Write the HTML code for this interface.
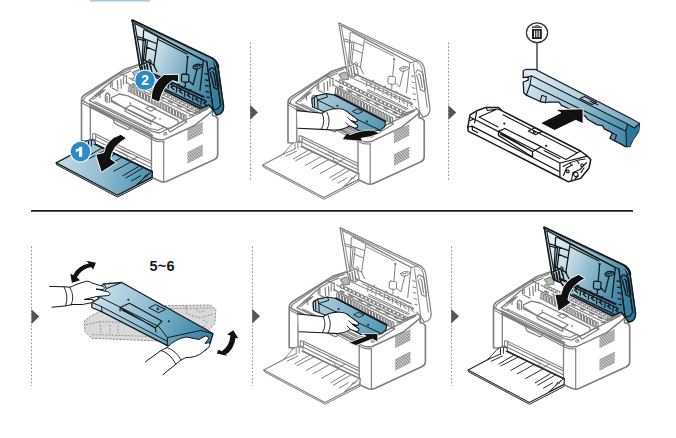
<!DOCTYPE html>
<html><head><meta charset="utf-8"><title>Replacing the toner cartridge</title>
<style>html,body{margin:0;padding:0;background:#fff;}body{width:676px;height:438px;overflow:hidden;font-family:"Liberation Sans",sans-serif;}svg{display:block}.t{font-family:"Liberation Sans",sans-serif;font-weight:bold;}</style>
</head><body>
<svg width="676" height="438" viewBox="0 0 676 438">
<defs>
<linearGradient id="lidg" gradientUnits="userSpaceOnUse" x1="137" y1="46" x2="221" y2="80">
<stop offset="0" stop-color="#e0edf3"/><stop offset="0.25" stop-color="#bfd8e3"/><stop offset="0.5" stop-color="#8ab7cb"/><stop offset="0.75" stop-color="#5795b1"/><stop offset="1" stop-color="#367e9d"/></linearGradient>
<linearGradient id="trayg" gradientUnits="userSpaceOnUse" x1="62" y1="162" x2="150" y2="178">
<stop offset="0" stop-color="#c0d9e4"/><stop offset="0.5" stop-color="#8cbace"/><stop offset="1" stop-color="#4b91af"/></linearGradient>
<linearGradient id="cartg" gradientUnits="userSpaceOnUse" x1="105" y1="95" x2="180" y2="125">
<stop offset="0" stop-color="#b2d0dd"/><stop offset="1" stop-color="#4f95b3"/></linearGradient>
<linearGradient id="covg" gradientUnits="userSpaceOnUse" x1="525" y1="80" x2="640" y2="135">
<stop offset="0" stop-color="#d6e6ee"/><stop offset="0.45" stop-color="#9ac2d4"/><stop offset="0.8" stop-color="#5797b4"/><stop offset="1" stop-color="#35819f"/></linearGradient>
<linearGradient id="c4g" gradientUnits="userSpaceOnUse" x1="95" y1="290" x2="212" y2="340">
<stop offset="0" stop-color="#cfe2ec"/><stop offset="0.45" stop-color="#8fbdd1"/><stop offset="0.8" stop-color="#4e93b2"/><stop offset="1" stop-color="#357fa0"/></linearGradient>
</defs>
<rect x="90" y="0" width="60" height="1.5" fill="#a9cbe0"/>
<rect x="31" y="210" width="602" height="1.7" fill="#1a1a1a"/>
<path d="M250.5,42.7 L250.5,181.5" stroke="#8e8e8e" stroke-width="1" stroke-dasharray="1.6 1.96" fill="none"/>
<path d="M250.2,105.10000000000001 L258.0,112.4 L250.2,119.7 Z" fill="#555"/>
<path d="M448.5,42.7 L448.5,181.5" stroke="#8e8e8e" stroke-width="1" stroke-dasharray="1.6 1.96" fill="none"/>
<path d="M448.4,105.2 L456.2,112.5 L448.4,119.8 Z" fill="#555"/>
<path d="M31.5,246.4 L31.5,386" stroke="#8e8e8e" stroke-width="1" stroke-dasharray="1.6 1.96" fill="none"/>
<path d="M31.5,309.3 L39.3,316.6 L31.5,323.90000000000003 Z" fill="#555"/>
<path d="M252.5,246.4 L252.5,386" stroke="#8e8e8e" stroke-width="1" stroke-dasharray="1.6 1.96" fill="none"/>
<path d="M252.2,308.9 L260.0,316.2 L252.2,323.5 Z" fill="#555"/>
<path d="M451.5,246.4 L451.5,386" stroke="#8e8e8e" stroke-width="1" stroke-dasharray="1.6 1.96" fill="none"/>
<path d="M451.2,308.9 L459.0,316.2 L451.2,323.5 Z" fill="#555"/>
<g transform="translate(0,0)">
<path d="M81.5,140.5 L81.5,100.5 Q81.5,97 84,95.2 L125,69.3 L138,64.9 L212.5,104 L212.5,115.5 L215.5,116.2 L217.7,118.6 L217.7,154.5 Q217.7,158 214.5,159.5 L167,181.3 Q163.5,182.8 160,181.3 L152,177.6 L151.8,172 L88.5,141 Z" fill="#fff" stroke="#7f7f7f" stroke-width="1.65" stroke-linejoin="round" stroke-linecap="round" />
<path d="M83.6,100.8 Q83.6,98 85.8,96.6 L116.8,75.2 L128.2,70 L137,67" fill="none" stroke="#7f7f7f" stroke-width="1.18" stroke-linejoin="round" stroke-linecap="round" />
<path d="M81.8,100.4 L153,137.8 Q158.5,140.6 164.5,139.4 L195,125.2 L212.3,111.2" fill="none" stroke="#7f7f7f" stroke-width="1.53" stroke-linejoin="round" stroke-linecap="round" />
<path d="M82.5,103.2 L153,140 Q158.5,142.4 164,141.6" fill="none" stroke="#7f7f7f" stroke-width="1.06" stroke-linejoin="round" stroke-linecap="round" />
<path d="M163.7,142 L163.7,181.2" fill="none" stroke="#7f7f7f" stroke-width="1.18" stroke-linejoin="round" stroke-linecap="round" />
<path d="M187.8,130.2 L202.4,122.8" fill="none" stroke="#7f7f7f" stroke-width="0.94" stroke-linejoin="round" stroke-linecap="round" />
<path d="M187.8,131.6 L202.4,124.2" fill="none" stroke="#7f7f7f" stroke-width="0.94" stroke-linejoin="round" stroke-linecap="round" />
<path d="M187.8,133.1 L202.4,125.7" fill="none" stroke="#7f7f7f" stroke-width="0.94" stroke-linejoin="round" stroke-linecap="round" />
<path d="M187.8,134.5 L202.4,127.1" fill="none" stroke="#7f7f7f" stroke-width="0.94" stroke-linejoin="round" stroke-linecap="round" />
<path d="M187.8,136.0 L202.4,128.6" fill="none" stroke="#7f7f7f" stroke-width="0.94" stroke-linejoin="round" stroke-linecap="round" />
<path d="M187.8,137.4 L202.4,130.0" fill="none" stroke="#7f7f7f" stroke-width="0.94" stroke-linejoin="round" stroke-linecap="round" />
<path d="M187.8,138.9 L202.4,131.5" fill="none" stroke="#7f7f7f" stroke-width="0.94" stroke-linejoin="round" stroke-linecap="round" />
<path d="M187.8,140.3 L202.4,132.9" fill="none" stroke="#7f7f7f" stroke-width="0.94" stroke-linejoin="round" stroke-linecap="round" />
<path d="M187.8,152.6 L202.4,145.2" fill="none" stroke="#7f7f7f" stroke-width="0.94" stroke-linejoin="round" stroke-linecap="round" />
<path d="M187.8,154.0 L202.4,146.6" fill="none" stroke="#7f7f7f" stroke-width="0.94" stroke-linejoin="round" stroke-linecap="round" />
<path d="M187.8,155.5 L202.4,148.1" fill="none" stroke="#7f7f7f" stroke-width="0.94" stroke-linejoin="round" stroke-linecap="round" />
<path d="M187.8,156.9 L202.4,149.5" fill="none" stroke="#7f7f7f" stroke-width="0.94" stroke-linejoin="round" stroke-linecap="round" />
<path d="M187.8,158.4 L202.4,151.0" fill="none" stroke="#7f7f7f" stroke-width="0.94" stroke-linejoin="round" stroke-linecap="round" />
<path d="M187.8,159.8 L202.4,152.4" fill="none" stroke="#7f7f7f" stroke-width="0.94" stroke-linejoin="round" stroke-linecap="round" />
<path d="M187.8,161.3 L202.4,153.9" fill="none" stroke="#7f7f7f" stroke-width="0.94" stroke-linejoin="round" stroke-linecap="round" />
<path d="M187.8,162.8 L202.4,155.3" fill="none" stroke="#7f7f7f" stroke-width="0.94" stroke-linejoin="round" stroke-linecap="round" />
<path d="M90.3,139.8 L90.3,105.2 M151.5,135.5 L151.5,171.5" fill="none" stroke="#7f7f7f" stroke-width="1.3" stroke-linejoin="round" stroke-linecap="round" />
<path d="M90,106.8 L152,135.6" fill="none" stroke="#7f7f7f" stroke-width="2.24" stroke-linejoin="round" stroke-linecap="round" />
<path d="M89.4,103.6 L150,132.4" fill="none" stroke="#7f7f7f" stroke-width="1.06" stroke-linejoin="round" stroke-linecap="round" />
<path d="M112.8,117.6 L114.2,122.2 Q114.6,123.6 116.4,124.4 L127,129.3 Q129,130.1 129.6,128.6 L130.6,125.7" fill="none" stroke="#7f7f7f" stroke-width="1.3" stroke-linejoin="round" stroke-linecap="round" />
<path d="M95.6,134.1 L151.4,161.2 M95.6,136.4 L151.4,163.8 M92,138.4 L151.4,167.6" fill="none" stroke="#7f7f7f" stroke-width="1.06" stroke-linejoin="round" stroke-linecap="round" />
<path d="M92.6,133.6 L92.6,139.2 M95.6,134.1 L95.6,139.6 M92.6,133.6 L95.6,134.1" fill="none" stroke="#7f7f7f" stroke-width="1.06" stroke-linejoin="round" stroke-linecap="round" />
<path d="M89.2,100.6 L108.8,83.4 L112,81.8 M89.2,100.6 L152.5,131.4 L159.5,133 L207.5,109" fill="none" stroke="#7f7f7f" stroke-width="1.3" stroke-linejoin="round" stroke-linecap="round" />
<path d="M92.8,99.6 L104,91 M95,101.8 L150,128.6 L158,130.2 L167,126" fill="none" stroke="#7f7f7f" stroke-width="1.06" stroke-linejoin="round" stroke-linecap="round" />
<path d="M110.5,83.1 L110.5,87 M112.2,82.2 L112.2,86.6 M117.4,80.6 L117.9,88.8 M120.8,79.5 L121.3,88.2 M114,77 L120,73.5 L126,76.5" fill="none" stroke="#7f7f7f" stroke-width="1.18" stroke-linejoin="round" stroke-linecap="round" />
<path d="M105.4,101 L105.4,95.6 Q105.6,93.4 107.6,93 L109.6,94.6 L109.4,102.2 M107,102.6 L107,96.5" fill="none" stroke="#7f7f7f" stroke-width="1.3" stroke-linejoin="round" stroke-linecap="round" />
<path d="M95.1,96.2 L105.4,89.4" fill="none" stroke="#7f7f7f" stroke-width="1.06" stroke-linejoin="round" stroke-linecap="round" />
<path d="M132.5,72.4 L138,69.8 L141.5,72 L141.8,77 L136,77.8 Z" fill="#b9b9b9" stroke="#7f7f7f" stroke-width="1.06" stroke-linejoin="round" stroke-linecap="round" />
<path d="M110.8,81.4 L122.3,74.6 L131,71 M123.5,77 L123.5,84 M126.5,75.6 L126.5,83 M129,78 L134,80.6 M112,88 L118,91 M98,94 L103.5,90 M100,97.5 L100,93" fill="none" stroke="#7f7f7f" stroke-width="1.18" stroke-linejoin="round" stroke-linecap="round" />
<path d="M111.4,97.6 L119.4,94 L128,95.8 L178,120.4 L178,124 L170.5,128 L167.4,128.6 L111.4,101.6 Z" fill="#fff" stroke="#7f7f7f" stroke-width="1.3" stroke-linejoin="round" stroke-linecap="round" />
<path d="M111.4,99.9 L125.1,108.5 L167.4,128.5 M125.1,108.5 L130.8,105.1 L156,117.6 L150.8,121.6 Z M125.1,108.5 L125.1,111 M150.8,121.6 L150.8,124.4 M150.8,124.4 L125.1,111.2" fill="none" stroke="#7f7f7f" stroke-width="1.18" stroke-linejoin="round" stroke-linecap="round" />
<path d="M145.7,108.4 L150.7,106 L156,108.6 L151,111.2 Z" fill="none" stroke="#7f7f7f" stroke-width="1.06" stroke-linejoin="round" stroke-linecap="round" />
<circle cx="130.3" cy="103.4" r="0.9" fill="#7f7f7f"/><circle cx="160" cy="118.8" r="0.9" fill="#7f7f7f"/>
<path d="M129.0,90.6 l0,-4.4 q1,-1.2 2,0.2 l0,4.6" fill="none" stroke="#7f7f7f" stroke-width="1.18" stroke-linejoin="round" stroke-linecap="round" />
<path d="M131.9,92.1 l0,-4.4 q1,-1.2 2,0.2 l0,4.6" fill="none" stroke="#7f7f7f" stroke-width="1.18" stroke-linejoin="round" stroke-linecap="round" />
<path d="M134.8,93.7 l0,-4.4 q1,-1.2 2,0.2 l0,4.6" fill="none" stroke="#7f7f7f" stroke-width="1.18" stroke-linejoin="round" stroke-linecap="round" />
<path d="M137.7,95.2 l0,-4.4 q1,-1.2 2,0.2 l0,4.6" fill="none" stroke="#7f7f7f" stroke-width="1.18" stroke-linejoin="round" stroke-linecap="round" />
<path d="M140.6,96.7 l0,-4.4 q1,-1.2 2,0.2 l0,4.6" fill="none" stroke="#7f7f7f" stroke-width="1.18" stroke-linejoin="round" stroke-linecap="round" />
<path d="M143.5,98.3 l0,-4.4 q1,-1.2 2,0.2 l0,4.6" fill="none" stroke="#7f7f7f" stroke-width="1.18" stroke-linejoin="round" stroke-linecap="round" />
<path d="M146.4,99.8 l0,-4.4 q1,-1.2 2,0.2 l0,4.6" fill="none" stroke="#7f7f7f" stroke-width="1.18" stroke-linejoin="round" stroke-linecap="round" />
<path d="M149.3,101.4 l0,-4.4 q1,-1.2 2,0.2 l0,4.6" fill="none" stroke="#7f7f7f" stroke-width="1.18" stroke-linejoin="round" stroke-linecap="round" />
<path d="M152.2,102.9 l0,-4.4 q1,-1.2 2,0.2 l0,4.6" fill="none" stroke="#7f7f7f" stroke-width="1.18" stroke-linejoin="round" stroke-linecap="round" />
<path d="M155.1,104.4 l0,-4.4 q1,-1.2 2,0.2 l0,4.6" fill="none" stroke="#7f7f7f" stroke-width="1.18" stroke-linejoin="round" stroke-linecap="round" />
<path d="M158.0,106.0 l0,-4.4 q1,-1.2 2,0.2 l0,4.6" fill="none" stroke="#7f7f7f" stroke-width="1.18" stroke-linejoin="round" stroke-linecap="round" />
<path d="M160.9,107.5 l0,-4.4 q1,-1.2 2,0.2 l0,4.6" fill="none" stroke="#7f7f7f" stroke-width="1.18" stroke-linejoin="round" stroke-linecap="round" />
<path d="M163.8,109.0 l0,-4.4 q1,-1.2 2,0.2 l0,4.6" fill="none" stroke="#7f7f7f" stroke-width="1.18" stroke-linejoin="round" stroke-linecap="round" />
<path d="M166.7,110.6 l0,-4.4 q1,-1.2 2,0.2 l0,4.6" fill="none" stroke="#7f7f7f" stroke-width="1.18" stroke-linejoin="round" stroke-linecap="round" />
<path d="M169.6,112.1 l0,-4.4 q1,-1.2 2,0.2 l0,4.6" fill="none" stroke="#7f7f7f" stroke-width="1.18" stroke-linejoin="round" stroke-linecap="round" />
<path d="M172.5,113.7 l0,-4.4 q1,-1.2 2,0.2 l0,4.6" fill="none" stroke="#7f7f7f" stroke-width="1.18" stroke-linejoin="round" stroke-linecap="round" />
<path d="M175.4,115.2 l0,-4.4 q1,-1.2 2,0.2 l0,4.6" fill="none" stroke="#7f7f7f" stroke-width="1.18" stroke-linejoin="round" stroke-linecap="round" />
<path d="M178.3,116.7 l0,-4.4 q1,-1.2 2,0.2 l0,4.6" fill="none" stroke="#7f7f7f" stroke-width="1.18" stroke-linejoin="round" stroke-linecap="round" />
<path d="M181.2,118.3 l0,-4.4 q1,-1.2 2,0.2 l0,4.6" fill="none" stroke="#7f7f7f" stroke-width="1.18" stroke-linejoin="round" stroke-linecap="round" />
<path d="M184.1,119.8 l0,-4.4 q1,-1.2 2,0.2 l0,4.6" fill="none" stroke="#7f7f7f" stroke-width="1.18" stroke-linejoin="round" stroke-linecap="round" />
<path d="M133.0,77.4 l0,3.2 l2.8,1.3 l0,-3.2 Z" fill="none" stroke="#7f7f7f" stroke-width="1.06" stroke-linejoin="round" stroke-linecap="round" />
<path d="M137.0,79.4 l0,3.2 l2.8,1.3 l0,-3.2 Z" fill="none" stroke="#7f7f7f" stroke-width="1.06" stroke-linejoin="round" stroke-linecap="round" />
<path d="M141.0,81.3 l0,3.2 l2.8,1.3 l0,-3.2 Z" fill="none" stroke="#7f7f7f" stroke-width="1.06" stroke-linejoin="round" stroke-linecap="round" />
<path d="M145.0,83.3 l0,3.2 l2.8,1.3 l0,-3.2 Z" fill="none" stroke="#7f7f7f" stroke-width="1.06" stroke-linejoin="round" stroke-linecap="round" />
<path d="M149.0,85.2 l0,3.2 l2.8,1.3 l0,-3.2 Z" fill="none" stroke="#7f7f7f" stroke-width="1.06" stroke-linejoin="round" stroke-linecap="round" />
<path d="M153.0,87.2 l0,3.2 l2.8,1.3 l0,-3.2 Z" fill="none" stroke="#7f7f7f" stroke-width="1.06" stroke-linejoin="round" stroke-linecap="round" />
<path d="M157.0,89.2 l0,3.2 l2.8,1.3 l0,-3.2 Z" fill="none" stroke="#7f7f7f" stroke-width="1.06" stroke-linejoin="round" stroke-linecap="round" />
<path d="M161.0,91.1 l0,3.2 l2.8,1.3 l0,-3.2 Z" fill="none" stroke="#7f7f7f" stroke-width="1.06" stroke-linejoin="round" stroke-linecap="round" />
<path d="M165.0,93.1 l0,3.2 l2.8,1.3 l0,-3.2 Z" fill="none" stroke="#7f7f7f" stroke-width="1.06" stroke-linejoin="round" stroke-linecap="round" />
<path d="M169.0,95.0 l0,3.2 l2.8,1.3 l0,-3.2 Z" fill="none" stroke="#7f7f7f" stroke-width="1.06" stroke-linejoin="round" stroke-linecap="round" />
<path d="M173.0,97.0 l0,3.2 l2.8,1.3 l0,-3.2 Z" fill="none" stroke="#7f7f7f" stroke-width="1.06" stroke-linejoin="round" stroke-linecap="round" />
<path d="M177.0,99.0 l0,3.2 l2.8,1.3 l0,-3.2 Z" fill="none" stroke="#7f7f7f" stroke-width="1.06" stroke-linejoin="round" stroke-linecap="round" />
<path d="M181.0,100.9 l0,3.2 l2.8,1.3 l0,-3.2 Z" fill="none" stroke="#7f7f7f" stroke-width="1.06" stroke-linejoin="round" stroke-linecap="round" />
<path d="M185.0,102.9 l0,3.2 l2.8,1.3 l0,-3.2 Z" fill="none" stroke="#7f7f7f" stroke-width="1.06" stroke-linejoin="round" stroke-linecap="round" />
<path d="M189.0,104.8 l0,3.2 l2.8,1.3 l0,-3.2 Z" fill="none" stroke="#7f7f7f" stroke-width="1.06" stroke-linejoin="round" stroke-linecap="round" />
<path d="M193.0,106.8 l0,3.2 l2.8,1.3 l0,-3.2 Z" fill="none" stroke="#7f7f7f" stroke-width="1.06" stroke-linejoin="round" stroke-linecap="round" />
<path d="M197.0,108.8 l0,3.2 l2.8,1.3 l0,-3.2 Z" fill="none" stroke="#7f7f7f" stroke-width="1.06" stroke-linejoin="round" stroke-linecap="round" />
<path d="M126,82.5 L193,115.5 M128,90.8 L186,121.6 M140,86.5 L196,113.5" fill="none" stroke="#7f7f7f" stroke-width="1.18" stroke-linejoin="round" stroke-linecap="round" />
<path d="M133,84 l3,1.4 M142,88.3 l3,1.4 M151,92.6 l3,1.4 M160,96.9 l3,1.4 M169,101.2 l3,1.4 M178,105.5 l3,1.4 M187,109.8 l3,1.4" fill="none" stroke="#7f7f7f" stroke-width="2.01" stroke-linejoin="round" stroke-linecap="round" />
<path d="M194.5,112.6 L210.3,106.8" fill="none" stroke="#7f7f7f" stroke-width="1.18" stroke-linejoin="round" stroke-linecap="round" />
<path d="M167.9,129.4 L185,119.8 L187,121.8 L170,132.1 Z" fill="none" stroke="#7f7f7f" stroke-width="1.18" stroke-linejoin="round" stroke-linecap="round" />
<path d="M165.5,132.5 a1.6,1.2 -25 1,0 0.1,0 M189,115.8 L208.3,108.1" fill="none" stroke="#7f7f7f" stroke-width="1.06" stroke-linejoin="round" stroke-linecap="round" />
<g transform="translate(0.5,1.1)"><path d="M131.8,19.4 L211.3,57.2 Q216.4,59.8 217.5,65.8 L222.9,104.5 Q223.4,110.3 219.6,112.6 L216,113.8 L212.6,108.6 L208.7,104 L200,107.6 L158,86.6 L147,72.5 L139.4,66 Z" fill="url(#lidg)" stroke="#151a1e" stroke-width="1.69" stroke-linejoin="round" stroke-linecap="round" />
<path d="M212.5,58.2 Q216.4,59.8 217.5,65.8 L222.9,104.5 Q223.4,110.3 219.6,112.6 L216,113.8 L212.6,108.6 L217,108 L220.2,104 L214.6,66 Z" fill="#2b7797" stroke="#151a1e" stroke-width="1.17" stroke-linejoin="round" stroke-linecap="round" />
<path d="M203.2,59.4 L206.3,60.4 L212.6,108.6" fill="none" stroke="#151a1e" stroke-width="1.17" stroke-linejoin="round" stroke-linecap="round" />
<path d="M131.8,19.4 L211.3,57.2 Q216.4,59.8 217.5,65.8" fill="none" stroke="#151a1e" stroke-width="2.6" stroke-linejoin="round" stroke-linecap="round" />
<path d="M133.6,21.2 L210.4,57.9 Q214.6,60 215.3,64" fill="none" stroke="#8bbbd0" stroke-width="0.78" stroke-linejoin="round" stroke-linecap="round" />
<path d="M214.6,66 L220.2,104" fill="none" stroke="#151a1e" stroke-width="1.17" stroke-linejoin="round" stroke-linecap="round" />
<path d="M134.2,22.2 L203.2,59.4 M134.2,22.2 L141.6,64" fill="none" stroke="#151a1e" stroke-width="1.17" stroke-linejoin="round" stroke-linecap="round" />
<path d="M141.7,60.2 L143.1,29.6 Q143.4,28.4 144.6,28.9 L202.9,59.2 L199.5,89.3" fill="none" stroke="#151a1e" stroke-width="1.3" stroke-linejoin="round" stroke-linecap="round" />
<path d="M145.1,38.3 L156.1,42.4 M145.1,38.3 L142.6,61.6 M157.5,36.2 L153.3,64.3 M145.8,45.8 L155.4,49.9 M143.8,58.8 L154,64.3 M147,39.3 L144.6,60" fill="none" stroke="#151a1e" stroke-width="1.3" stroke-linejoin="round" stroke-linecap="round" />
<path d="M136.9,35.5 L143.8,37.6 L143.8,39.6 L137.3,37.7" fill="none" stroke="#151a1e" stroke-width="1.3" stroke-linejoin="round" stroke-linecap="round" />
<path d="M148.5,58.5 L150.5,60 L150.2,62.8 M142.4,61.6 L140.2,66.5 M146,64 L144.5,70 M150.5,65.5 L149.5,71.5 M153.3,64.3 L156.5,70.5" fill="none" stroke="#151a1e" stroke-width="1.3" stroke-linejoin="round" stroke-linecap="round" />
<path d="M139,64.4 L148.2,60.2 L151.4,70.4 L147,74 L141,71.4 Z" fill="url(#lidg)" stroke="#151a1e" stroke-width="1.43" stroke-linejoin="round" stroke-linecap="round" />
<path d="M141.2,65.4 L142.6,72 M143.8,64.2 L145.2,72.6 M146.4,63 L147.8,72" fill="none" stroke="#151a1e" stroke-width="1.82" stroke-linejoin="round" stroke-linecap="round" />
<path d="M158.2,38.6 L186.5,52.8" fill="none" stroke="#151a1e" stroke-width="1.17" stroke-linejoin="round" stroke-linecap="round" />
<circle cx="187.1" cy="55.8" r="1.2" fill="#151a1e"/>
<path d="M187.1,57 L185.8,72.2 M182.4,72.9 L187.4,73.4 Q188.6,73.7 188.5,75 L188.2,80 Q188,81.4 186.6,81.2 L182,80.6 Q180.8,80.3 180.9,79 L181.2,74 Q181.4,72.8 182.4,72.9 Z M184.6,81 L185,85.2 L182,87 M188.3,79.5 L192.6,83.8 L196.7,67.4" fill="none" stroke="#151a1e" stroke-width="1.3" stroke-linejoin="round" stroke-linecap="round" />
<path d="M192.6,65.3 Q195,62.6 199.5,63.3 Q202,63.8 201.5,65.3 Q199,68 195.3,68.1 Q192.2,67.6 192.6,65.3 Z M194.5,65.8 L199.2,64.6" fill="none" stroke="#151a1e" stroke-width="1.3" stroke-linejoin="round" stroke-linecap="round" />
<path d="M209,69.5 Q209.4,66.4 211.6,66.8 L214.4,68.6 Q215.8,69.6 216.1,71.4 L218.2,85.4 Q218.4,88.4 216,87.8 L213.2,86.2 M209.7,71.5 L213.6,86.4 M211.6,70.6 Q213,70.8 213.4,72.6 L215.4,84.6" fill="none" stroke="#151a1e" stroke-width="1.43" stroke-linejoin="round" stroke-linecap="round" />
<path d="M204.4,72.6 l2.6,0.6 M204.8,78.8 l2.6,0.6 M205.2,84.4 l2.6,0.6 M205.8,90.4 l2.6,0.6 M206.4,96 l2.6,0.6" fill="none" stroke="#151a1e" stroke-width="1.3" stroke-linejoin="round" stroke-linecap="round" />
<path d="M206.3,60.4 L212.6,108.6" fill="none" stroke="#151a1e" stroke-width="1.17" stroke-linejoin="round" stroke-linecap="round" />
<path d="M147,70.2 L203.1,95.7" fill="none" stroke="#151a1e" stroke-width="1.95" stroke-linejoin="round" stroke-linecap="round" />
<path d="M154,75.5 L204.7,99.7 M160.5,86 L201,105.5" fill="none" stroke="#151a1e" stroke-width="1.3" stroke-linejoin="round" stroke-linecap="round" />
<path d="M160.0,77.6 l-0.6,5.4 M162.6,78.8 l2.2,2 l-2.6,1 l3,2.6" fill="none" stroke="#151a1e" stroke-width="1.3" stroke-linejoin="round" stroke-linecap="round" />
<path d="M168.2,81.6 l-0.6,5.4 M170.8,82.8 l2.2,2 l-2.6,1 l3,2.6" fill="none" stroke="#151a1e" stroke-width="1.3" stroke-linejoin="round" stroke-linecap="round" />
<path d="M176.4,85.6 l-0.6,5.4 M179.0,86.8 l2.2,2 l-2.6,1 l3,2.6" fill="none" stroke="#151a1e" stroke-width="1.3" stroke-linejoin="round" stroke-linecap="round" />
<path d="M184.6,89.6 l-0.6,5.4 M187.2,90.8 l2.2,2 l-2.6,1 l3,2.6" fill="none" stroke="#151a1e" stroke-width="1.3" stroke-linejoin="round" stroke-linecap="round" />
<path d="M192.8,93.6 l-0.6,5.4 M195.4,94.8 l2.2,2 l-2.6,1 l3,2.6" fill="none" stroke="#151a1e" stroke-width="1.3" stroke-linejoin="round" stroke-linecap="round" />
<path d="M201.0,97.6 l-0.6,5.4 M203.6,98.8 l2.2,2 l-2.6,1 l3,2.6" fill="none" stroke="#151a1e" stroke-width="1.3" stroke-linejoin="round" stroke-linecap="round" />
<circle cx="166" cy="77.4" r="0.9" fill="#151a1e"/><circle cx="178" cy="83.2" r="0.9" fill="#151a1e"/><circle cx="190" cy="88.8" r="0.9" fill="#151a1e"/></g>
<path d="M88.3,140.8 L82,147.6 L76,152.3 L56.2,162.9 L117.3,195.3 L152,177.4 L152.4,171.6 Z" fill="url(#trayg)" stroke="#151a1e" stroke-width="1.3" stroke-linejoin="round" stroke-linecap="round" />
<path d="M56.2,162.9 L56.8,164.8 L117.5,197.1 L152.2,179.2" fill="none" stroke="#151a1e" stroke-width="1.0" stroke-linejoin="round" stroke-linecap="round" />
<path d="M90,141.8 L152.4,171.8" fill="none" stroke="#151a1e" stroke-width="1.5" stroke-linejoin="round" stroke-linecap="round" />
<path d="M90.2,148.9 L79.4,154" fill="none" stroke="#151a1e" stroke-width="1.0" stroke-linejoin="round" stroke-linecap="round" />
<path d="M102.2,147.8 L86.8,156.9" fill="none" stroke="#151a1e" stroke-width="1.0" stroke-linejoin="round" stroke-linecap="round" />
<path d="M106.8,149.5 L89.1,158.6" fill="none" stroke="#151a1e" stroke-width="1.0" stroke-linejoin="round" stroke-linecap="round" />
<path d="M115.3,154 L98.8,163.2" fill="none" stroke="#151a1e" stroke-width="1.0" stroke-linejoin="round" stroke-linecap="round" />
<path d="M121.8,157.5 L105.3,166.6" fill="none" stroke="#151a1e" stroke-width="1.0" stroke-linejoin="round" stroke-linecap="round" />
<path d="M130.4,162.1 L113.8,171.2" fill="none" stroke="#151a1e" stroke-width="1.0" stroke-linejoin="round" stroke-linecap="round" />
<path d="M138.4,166.6 L123,175.7" fill="none" stroke="#151a1e" stroke-width="1.0" stroke-linejoin="round" stroke-linecap="round" />
<path d="M142.4,168.3 L125.8,178" fill="none" stroke="#151a1e" stroke-width="1.0" stroke-linejoin="round" stroke-linecap="round" />
<path d="M140.6,175.7 L131.5,180.9" fill="none" stroke="#151a1e" stroke-width="1.0" stroke-linejoin="round" stroke-linecap="round" />
<path d="M76,152.3 Q81,147 85.1,142.1 Q88,139.6 90.8,139.8 L94.8,140.3 L95.4,143.4 M88.5,141.5 L88.5,146.8 M91.4,140.3 L91.4,146 M76,152.3 L88.5,146.8" fill="url(#trayg)" stroke="#151a1e" stroke-width="1.0" stroke-linejoin="round" stroke-linecap="round" />
<path d="M137,184.4 L150.9,172 M137,184.4 L151.8,177.2 M143.5,178.4 l2.4,-3.6 M146.8,176.6 l2,-3.2" fill="none" stroke="#151a1e" stroke-width="1.0" stroke-linejoin="round" stroke-linecap="round" />
<path d="M119,151.5 L127,155.4 L127.2,158.3 L131.3,160.3 L137.5,156.8 M122,150 L130,153.8" fill="none" stroke="#5b6a72" stroke-width="0.9" stroke-linejoin="round" stroke-linecap="round" />
<path d="M120.8,134.4 Q106,139 103.8,152.5 L95.7,154.5 L101.3,172.4 L116.4,162.7 L110.7,158.9 Q112,146 126.4,138.2 Z" fill="#111" stroke="#fff" stroke-width="1"/><circle cx="80.5" cy="151.6" r="10.7" fill="#fff"/><circle cx="80.5" cy="151.6" r="9.8" fill="#2a8bc6"/><path d="M82.2,146.7 L79.8,146.7 Q78.8,148.9 75.8,149.6 L75.8,151.9 Q77.8,151.4 79.1,150.4 L79.1,156.7 L82.2,156.7 Z" fill="#fff"/><path d="M151.1,98.8 Q151.5,83 163.9,74.6 L178.7,74.2 L178.7,82.6 L172.5,80.6 Q163,86 159.3,102.3 Z" fill="#111" stroke="#fff" stroke-width="1"/><circle cx="145" cy="80.3" r="10.7" fill="#fff"/><circle cx="145" cy="80.3" r="9.8" fill="#2a8bc6"/><text class="t" x="145" y="85.2" text-anchor="middle" font-size="13.8" fill="#fff">2</text>
</g>
<g transform="translate(206.5,2.2)">
<path d="M81.5,140.5 L81.5,100.5 Q81.5,97 84,95.2 L125,69.3 L138,64.9 L212.5,104 L212.5,115.5 L215.5,116.2 L217.7,118.6 L217.7,154.5 Q217.7,158 214.5,159.5 L167,181.3 Q163.5,182.8 160,181.3 L152,177.6 L151.8,172 L88.5,141 Z" fill="#fff" stroke="#7f7f7f" stroke-width="1.65" stroke-linejoin="round" stroke-linecap="round" />
<path d="M83.6,100.8 Q83.6,98 85.8,96.6 L116.8,75.2 L128.2,70 L137,67" fill="none" stroke="#7f7f7f" stroke-width="1.18" stroke-linejoin="round" stroke-linecap="round" />
<path d="M81.8,100.4 L153,137.8 Q158.5,140.6 164.5,139.4 L195,125.2 L212.3,111.2" fill="none" stroke="#7f7f7f" stroke-width="1.53" stroke-linejoin="round" stroke-linecap="round" />
<path d="M82.5,103.2 L153,140 Q158.5,142.4 164,141.6" fill="none" stroke="#7f7f7f" stroke-width="1.06" stroke-linejoin="round" stroke-linecap="round" />
<path d="M163.7,142 L163.7,181.2" fill="none" stroke="#7f7f7f" stroke-width="1.18" stroke-linejoin="round" stroke-linecap="round" />
<path d="M187.8,130.2 L202.4,122.8" fill="none" stroke="#7f7f7f" stroke-width="0.94" stroke-linejoin="round" stroke-linecap="round" />
<path d="M187.8,131.6 L202.4,124.2" fill="none" stroke="#7f7f7f" stroke-width="0.94" stroke-linejoin="round" stroke-linecap="round" />
<path d="M187.8,133.1 L202.4,125.7" fill="none" stroke="#7f7f7f" stroke-width="0.94" stroke-linejoin="round" stroke-linecap="round" />
<path d="M187.8,134.5 L202.4,127.1" fill="none" stroke="#7f7f7f" stroke-width="0.94" stroke-linejoin="round" stroke-linecap="round" />
<path d="M187.8,136.0 L202.4,128.6" fill="none" stroke="#7f7f7f" stroke-width="0.94" stroke-linejoin="round" stroke-linecap="round" />
<path d="M187.8,137.4 L202.4,130.0" fill="none" stroke="#7f7f7f" stroke-width="0.94" stroke-linejoin="round" stroke-linecap="round" />
<path d="M187.8,138.9 L202.4,131.5" fill="none" stroke="#7f7f7f" stroke-width="0.94" stroke-linejoin="round" stroke-linecap="round" />
<path d="M187.8,140.3 L202.4,132.9" fill="none" stroke="#7f7f7f" stroke-width="0.94" stroke-linejoin="round" stroke-linecap="round" />
<path d="M187.8,152.6 L202.4,145.2" fill="none" stroke="#7f7f7f" stroke-width="0.94" stroke-linejoin="round" stroke-linecap="round" />
<path d="M187.8,154.0 L202.4,146.6" fill="none" stroke="#7f7f7f" stroke-width="0.94" stroke-linejoin="round" stroke-linecap="round" />
<path d="M187.8,155.5 L202.4,148.1" fill="none" stroke="#7f7f7f" stroke-width="0.94" stroke-linejoin="round" stroke-linecap="round" />
<path d="M187.8,156.9 L202.4,149.5" fill="none" stroke="#7f7f7f" stroke-width="0.94" stroke-linejoin="round" stroke-linecap="round" />
<path d="M187.8,158.4 L202.4,151.0" fill="none" stroke="#7f7f7f" stroke-width="0.94" stroke-linejoin="round" stroke-linecap="round" />
<path d="M187.8,159.8 L202.4,152.4" fill="none" stroke="#7f7f7f" stroke-width="0.94" stroke-linejoin="round" stroke-linecap="round" />
<path d="M187.8,161.3 L202.4,153.9" fill="none" stroke="#7f7f7f" stroke-width="0.94" stroke-linejoin="round" stroke-linecap="round" />
<path d="M187.8,162.8 L202.4,155.3" fill="none" stroke="#7f7f7f" stroke-width="0.94" stroke-linejoin="round" stroke-linecap="round" />
<path d="M90.3,139.8 L90.3,105.2 M151.5,135.5 L151.5,171.5" fill="none" stroke="#7f7f7f" stroke-width="1.3" stroke-linejoin="round" stroke-linecap="round" />
<path d="M90,106.8 L152,135.6" fill="none" stroke="#7f7f7f" stroke-width="2.24" stroke-linejoin="round" stroke-linecap="round" />
<path d="M89.4,103.6 L150,132.4" fill="none" stroke="#7f7f7f" stroke-width="1.06" stroke-linejoin="round" stroke-linecap="round" />
<path d="M112.8,117.6 L114.2,122.2 Q114.6,123.6 116.4,124.4 L127,129.3 Q129,130.1 129.6,128.6 L130.6,125.7" fill="none" stroke="#7f7f7f" stroke-width="1.3" stroke-linejoin="round" stroke-linecap="round" />
<path d="M95.6,134.1 L151.4,161.2 M95.6,136.4 L151.4,163.8 M92,138.4 L151.4,167.6" fill="none" stroke="#7f7f7f" stroke-width="1.06" stroke-linejoin="round" stroke-linecap="round" />
<path d="M92.6,133.6 L92.6,139.2 M95.6,134.1 L95.6,139.6 M92.6,133.6 L95.6,134.1" fill="none" stroke="#7f7f7f" stroke-width="1.06" stroke-linejoin="round" stroke-linecap="round" />
<path d="M89.2,100.6 L108.8,83.4 L112,81.8 M89.2,100.6 L152.5,131.4 L159.5,133 L207.5,109" fill="none" stroke="#7f7f7f" stroke-width="1.3" stroke-linejoin="round" stroke-linecap="round" />
<path d="M92.8,99.6 L104,91 M95,101.8 L150,128.6 L158,130.2 L167,126" fill="none" stroke="#7f7f7f" stroke-width="1.06" stroke-linejoin="round" stroke-linecap="round" />
<path d="M110.5,83.1 L110.5,87 M112.2,82.2 L112.2,86.6 M117.4,80.6 L117.9,88.8 M120.8,79.5 L121.3,88.2 M114,77 L120,73.5 L126,76.5" fill="none" stroke="#7f7f7f" stroke-width="1.18" stroke-linejoin="round" stroke-linecap="round" />
<path d="M105.4,101 L105.4,95.6 Q105.6,93.4 107.6,93 L109.6,94.6 L109.4,102.2 M107,102.6 L107,96.5" fill="none" stroke="#7f7f7f" stroke-width="1.3" stroke-linejoin="round" stroke-linecap="round" />
<path d="M95.1,96.2 L105.4,89.4" fill="none" stroke="#7f7f7f" stroke-width="1.06" stroke-linejoin="round" stroke-linecap="round" />
<path d="M132.5,72.4 L138,69.8 L141.5,72 L141.8,77 L136,77.8 Z" fill="#b9b9b9" stroke="#7f7f7f" stroke-width="1.06" stroke-linejoin="round" stroke-linecap="round" />
<path d="M110.8,81.4 L122.3,74.6 L131,71 M123.5,77 L123.5,84 M126.5,75.6 L126.5,83 M129,78 L134,80.6 M112,88 L118,91 M98,94 L103.5,90 M100,97.5 L100,93" fill="none" stroke="#7f7f7f" stroke-width="1.18" stroke-linejoin="round" stroke-linecap="round" />
<path d="M129.0,90.6 l0,-4.4 q1,-1.2 2,0.2 l0,4.6" fill="none" stroke="#7f7f7f" stroke-width="1.18" stroke-linejoin="round" stroke-linecap="round" />
<path d="M131.9,92.1 l0,-4.4 q1,-1.2 2,0.2 l0,4.6" fill="none" stroke="#7f7f7f" stroke-width="1.18" stroke-linejoin="round" stroke-linecap="round" />
<path d="M134.8,93.7 l0,-4.4 q1,-1.2 2,0.2 l0,4.6" fill="none" stroke="#7f7f7f" stroke-width="1.18" stroke-linejoin="round" stroke-linecap="round" />
<path d="M137.7,95.2 l0,-4.4 q1,-1.2 2,0.2 l0,4.6" fill="none" stroke="#7f7f7f" stroke-width="1.18" stroke-linejoin="round" stroke-linecap="round" />
<path d="M140.6,96.7 l0,-4.4 q1,-1.2 2,0.2 l0,4.6" fill="none" stroke="#7f7f7f" stroke-width="1.18" stroke-linejoin="round" stroke-linecap="round" />
<path d="M143.5,98.3 l0,-4.4 q1,-1.2 2,0.2 l0,4.6" fill="none" stroke="#7f7f7f" stroke-width="1.18" stroke-linejoin="round" stroke-linecap="round" />
<path d="M146.4,99.8 l0,-4.4 q1,-1.2 2,0.2 l0,4.6" fill="none" stroke="#7f7f7f" stroke-width="1.18" stroke-linejoin="round" stroke-linecap="round" />
<path d="M149.3,101.4 l0,-4.4 q1,-1.2 2,0.2 l0,4.6" fill="none" stroke="#7f7f7f" stroke-width="1.18" stroke-linejoin="round" stroke-linecap="round" />
<path d="M152.2,102.9 l0,-4.4 q1,-1.2 2,0.2 l0,4.6" fill="none" stroke="#7f7f7f" stroke-width="1.18" stroke-linejoin="round" stroke-linecap="round" />
<path d="M155.1,104.4 l0,-4.4 q1,-1.2 2,0.2 l0,4.6" fill="none" stroke="#7f7f7f" stroke-width="1.18" stroke-linejoin="round" stroke-linecap="round" />
<path d="M158.0,106.0 l0,-4.4 q1,-1.2 2,0.2 l0,4.6" fill="none" stroke="#7f7f7f" stroke-width="1.18" stroke-linejoin="round" stroke-linecap="round" />
<path d="M160.9,107.5 l0,-4.4 q1,-1.2 2,0.2 l0,4.6" fill="none" stroke="#7f7f7f" stroke-width="1.18" stroke-linejoin="round" stroke-linecap="round" />
<path d="M163.8,109.0 l0,-4.4 q1,-1.2 2,0.2 l0,4.6" fill="none" stroke="#7f7f7f" stroke-width="1.18" stroke-linejoin="round" stroke-linecap="round" />
<path d="M166.7,110.6 l0,-4.4 q1,-1.2 2,0.2 l0,4.6" fill="none" stroke="#7f7f7f" stroke-width="1.18" stroke-linejoin="round" stroke-linecap="round" />
<path d="M169.6,112.1 l0,-4.4 q1,-1.2 2,0.2 l0,4.6" fill="none" stroke="#7f7f7f" stroke-width="1.18" stroke-linejoin="round" stroke-linecap="round" />
<path d="M172.5,113.7 l0,-4.4 q1,-1.2 2,0.2 l0,4.6" fill="none" stroke="#7f7f7f" stroke-width="1.18" stroke-linejoin="round" stroke-linecap="round" />
<path d="M175.4,115.2 l0,-4.4 q1,-1.2 2,0.2 l0,4.6" fill="none" stroke="#7f7f7f" stroke-width="1.18" stroke-linejoin="round" stroke-linecap="round" />
<path d="M178.3,116.7 l0,-4.4 q1,-1.2 2,0.2 l0,4.6" fill="none" stroke="#7f7f7f" stroke-width="1.18" stroke-linejoin="round" stroke-linecap="round" />
<path d="M181.2,118.3 l0,-4.4 q1,-1.2 2,0.2 l0,4.6" fill="none" stroke="#7f7f7f" stroke-width="1.18" stroke-linejoin="round" stroke-linecap="round" />
<path d="M184.1,119.8 l0,-4.4 q1,-1.2 2,0.2 l0,4.6" fill="none" stroke="#7f7f7f" stroke-width="1.18" stroke-linejoin="round" stroke-linecap="round" />
<path d="M133.0,77.4 l0,3.2 l2.8,1.3 l0,-3.2 Z" fill="none" stroke="#7f7f7f" stroke-width="1.06" stroke-linejoin="round" stroke-linecap="round" />
<path d="M137.0,79.4 l0,3.2 l2.8,1.3 l0,-3.2 Z" fill="none" stroke="#7f7f7f" stroke-width="1.06" stroke-linejoin="round" stroke-linecap="round" />
<path d="M141.0,81.3 l0,3.2 l2.8,1.3 l0,-3.2 Z" fill="none" stroke="#7f7f7f" stroke-width="1.06" stroke-linejoin="round" stroke-linecap="round" />
<path d="M145.0,83.3 l0,3.2 l2.8,1.3 l0,-3.2 Z" fill="none" stroke="#7f7f7f" stroke-width="1.06" stroke-linejoin="round" stroke-linecap="round" />
<path d="M149.0,85.2 l0,3.2 l2.8,1.3 l0,-3.2 Z" fill="none" stroke="#7f7f7f" stroke-width="1.06" stroke-linejoin="round" stroke-linecap="round" />
<path d="M153.0,87.2 l0,3.2 l2.8,1.3 l0,-3.2 Z" fill="none" stroke="#7f7f7f" stroke-width="1.06" stroke-linejoin="round" stroke-linecap="round" />
<path d="M157.0,89.2 l0,3.2 l2.8,1.3 l0,-3.2 Z" fill="none" stroke="#7f7f7f" stroke-width="1.06" stroke-linejoin="round" stroke-linecap="round" />
<path d="M161.0,91.1 l0,3.2 l2.8,1.3 l0,-3.2 Z" fill="none" stroke="#7f7f7f" stroke-width="1.06" stroke-linejoin="round" stroke-linecap="round" />
<path d="M165.0,93.1 l0,3.2 l2.8,1.3 l0,-3.2 Z" fill="none" stroke="#7f7f7f" stroke-width="1.06" stroke-linejoin="round" stroke-linecap="round" />
<path d="M169.0,95.0 l0,3.2 l2.8,1.3 l0,-3.2 Z" fill="none" stroke="#7f7f7f" stroke-width="1.06" stroke-linejoin="round" stroke-linecap="round" />
<path d="M173.0,97.0 l0,3.2 l2.8,1.3 l0,-3.2 Z" fill="none" stroke="#7f7f7f" stroke-width="1.06" stroke-linejoin="round" stroke-linecap="round" />
<path d="M177.0,99.0 l0,3.2 l2.8,1.3 l0,-3.2 Z" fill="none" stroke="#7f7f7f" stroke-width="1.06" stroke-linejoin="round" stroke-linecap="round" />
<path d="M181.0,100.9 l0,3.2 l2.8,1.3 l0,-3.2 Z" fill="none" stroke="#7f7f7f" stroke-width="1.06" stroke-linejoin="round" stroke-linecap="round" />
<path d="M185.0,102.9 l0,3.2 l2.8,1.3 l0,-3.2 Z" fill="none" stroke="#7f7f7f" stroke-width="1.06" stroke-linejoin="round" stroke-linecap="round" />
<path d="M189.0,104.8 l0,3.2 l2.8,1.3 l0,-3.2 Z" fill="none" stroke="#7f7f7f" stroke-width="1.06" stroke-linejoin="round" stroke-linecap="round" />
<path d="M193.0,106.8 l0,3.2 l2.8,1.3 l0,-3.2 Z" fill="none" stroke="#7f7f7f" stroke-width="1.06" stroke-linejoin="round" stroke-linecap="round" />
<path d="M197.0,108.8 l0,3.2 l2.8,1.3 l0,-3.2 Z" fill="none" stroke="#7f7f7f" stroke-width="1.06" stroke-linejoin="round" stroke-linecap="round" />
<path d="M126,82.5 L193,115.5 M128,90.8 L186,121.6 M140,86.5 L196,113.5" fill="none" stroke="#7f7f7f" stroke-width="1.18" stroke-linejoin="round" stroke-linecap="round" />
<path d="M133,84 l3,1.4 M142,88.3 l3,1.4 M151,92.6 l3,1.4 M160,96.9 l3,1.4 M169,101.2 l3,1.4 M178,105.5 l3,1.4 M187,109.8 l3,1.4" fill="none" stroke="#7f7f7f" stroke-width="2.01" stroke-linejoin="round" stroke-linecap="round" />
<path d="M194.5,112.6 L210.3,106.8" fill="none" stroke="#7f7f7f" stroke-width="1.18" stroke-linejoin="round" stroke-linecap="round" />
<path d="M167.9,129.4 L185,119.8 L187,121.8 L170,132.1 Z" fill="none" stroke="#7f7f7f" stroke-width="1.18" stroke-linejoin="round" stroke-linecap="round" />
<path d="M165.5,132.5 a1.6,1.2 -25 1,0 0.1,0 M189,115.8 L208.3,108.1" fill="none" stroke="#7f7f7f" stroke-width="1.06" stroke-linejoin="round" stroke-linecap="round" />
<g transform="translate(0.5,1.1)"><path d="M131.8,19.4 L211.3,57.2 Q216.4,59.8 217.5,65.8 L222.9,104.5 Q223.4,110.3 219.6,112.6 L216,113.8 L212.6,108.6 L208.7,104 L200,107.6 L158,86.6 L147,72.5 L139.4,66 Z" fill="#fff" stroke="none"/>
<path d="M139.4,66 L131.8,19.4 L211.3,57.2 Q216.4,59.8 217.5,65.8 L222.9,104.5 Q223.4,110.3 219.6,112.6 L216,113.8 L212.6,108.6 L208.7,104" fill="none" stroke="#7f7f7f" stroke-width="1.2" stroke-linejoin="round" stroke-linecap="round" />
<path d="M141,73 L205.2,101.2 M160,87.6 L200,106.5" fill="none" stroke="#7f7f7f" stroke-width="1.0" stroke-linejoin="round" stroke-linecap="round" />
<path d="M203.2,59.4 L211,57.6 M133.4,21.8 L210,58.6 Q214.4,60.4 215,65 L220.2,104" fill="none" stroke="#7f7f7f" stroke-width="1.0" stroke-linejoin="round" stroke-linecap="round" />
<path d="M134.2,22.2 L203.2,59.4 M134.2,22.2 L141.6,64" fill="none" stroke="#7f7f7f" stroke-width="0.9" stroke-linejoin="round" stroke-linecap="round" />
<path d="M141.7,60.2 L143.1,29.6 Q143.4,28.4 144.6,28.9 L202.9,59.2 L199.5,89.3" fill="none" stroke="#7f7f7f" stroke-width="1.0" stroke-linejoin="round" stroke-linecap="round" />
<path d="M145.1,38.3 L156.1,42.4 M145.1,38.3 L142.6,61.6 M157.5,36.2 L153.3,64.3 M145.8,45.8 L155.4,49.9 M143.8,58.8 L154,64.3 M147,39.3 L144.6,60" fill="none" stroke="#7f7f7f" stroke-width="1.0" stroke-linejoin="round" stroke-linecap="round" />
<path d="M136.9,35.5 L143.8,37.6 L143.8,39.6 L137.3,37.7" fill="none" stroke="#7f7f7f" stroke-width="1.0" stroke-linejoin="round" stroke-linecap="round" />
<path d="M148.5,58.5 L150.5,60 L150.2,62.8 M142.4,61.6 L140.2,66.5 M146,64 L144.5,70 M150.5,65.5 L149.5,71.5 M153.3,64.3 L156.5,70.5" fill="none" stroke="#7f7f7f" stroke-width="1.0" stroke-linejoin="round" stroke-linecap="round" />
<path d="M139,64.4 L148.2,60.2 L151.4,70.4 L147,74 L141,71.4 Z" fill="#fff" stroke="#7f7f7f" stroke-width="1.1" stroke-linejoin="round" stroke-linecap="round" />
<path d="M141.2,65.4 L142.6,72 M143.8,64.2 L145.2,72.6 M146.4,63 L147.8,72" fill="none" stroke="#7f7f7f" stroke-width="1.4" stroke-linejoin="round" stroke-linecap="round" />
<path d="M158.2,38.6 L186.5,52.8" fill="none" stroke="#7f7f7f" stroke-width="0.9" stroke-linejoin="round" stroke-linecap="round" />
<circle cx="187.1" cy="55.8" r="1.2" fill="#7f7f7f"/>
<path d="M187.1,57 L185.8,72.2 M182.4,72.9 L187.4,73.4 Q188.6,73.7 188.5,75 L188.2,80 Q188,81.4 186.6,81.2 L182,80.6 Q180.8,80.3 180.9,79 L181.2,74 Q181.4,72.8 182.4,72.9 Z M184.6,81 L185,85.2 L182,87 M188.3,79.5 L192.6,83.8 L196.7,67.4" fill="none" stroke="#7f7f7f" stroke-width="1.0" stroke-linejoin="round" stroke-linecap="round" />
<path d="M192.6,65.3 Q195,62.6 199.5,63.3 Q202,63.8 201.5,65.3 Q199,68 195.3,68.1 Q192.2,67.6 192.6,65.3 Z M194.5,65.8 L199.2,64.6" fill="none" stroke="#7f7f7f" stroke-width="1.0" stroke-linejoin="round" stroke-linecap="round" />
<path d="M209,69.5 Q209.4,66.4 211.6,66.8 L214.4,68.6 Q215.8,69.6 216.1,71.4 L218.2,85.4 Q218.4,88.4 216,87.8 L213.2,86.2 M209.7,71.5 L213.6,86.4 M211.6,70.6 Q213,70.8 213.4,72.6 L215.4,84.6" fill="none" stroke="#7f7f7f" stroke-width="1.1" stroke-linejoin="round" stroke-linecap="round" />
<path d="M204.4,72.6 l2.6,0.6 M204.8,78.8 l2.6,0.6 M205.2,84.4 l2.6,0.6 M205.8,90.4 l2.6,0.6 M206.4,96 l2.6,0.6" fill="none" stroke="#7f7f7f" stroke-width="1.0" stroke-linejoin="round" stroke-linecap="round" />
<path d="M206.3,60.4 L212.6,108.6" fill="none" stroke="#7f7f7f" stroke-width="0.9" stroke-linejoin="round" stroke-linecap="round" />
<path d="M147,70.2 L203.1,95.7" fill="none" stroke="#7f7f7f" stroke-width="1.5" stroke-linejoin="round" stroke-linecap="round" />
<path d="M154,75.5 L204.7,99.7 M160.5,86 L201,105.5" fill="none" stroke="#7f7f7f" stroke-width="1.0" stroke-linejoin="round" stroke-linecap="round" />
<path d="M160.0,77.6 l-0.6,5.4 M162.6,78.8 l2.2,2 l-2.6,1 l3,2.6" fill="none" stroke="#7f7f7f" stroke-width="1.0" stroke-linejoin="round" stroke-linecap="round" />
<path d="M168.2,81.6 l-0.6,5.4 M170.8,82.8 l2.2,2 l-2.6,1 l3,2.6" fill="none" stroke="#7f7f7f" stroke-width="1.0" stroke-linejoin="round" stroke-linecap="round" />
<path d="M176.4,85.6 l-0.6,5.4 M179.0,86.8 l2.2,2 l-2.6,1 l3,2.6" fill="none" stroke="#7f7f7f" stroke-width="1.0" stroke-linejoin="round" stroke-linecap="round" />
<path d="M184.6,89.6 l-0.6,5.4 M187.2,90.8 l2.2,2 l-2.6,1 l3,2.6" fill="none" stroke="#7f7f7f" stroke-width="1.0" stroke-linejoin="round" stroke-linecap="round" />
<path d="M192.8,93.6 l-0.6,5.4 M195.4,94.8 l2.2,2 l-2.6,1 l3,2.6" fill="none" stroke="#7f7f7f" stroke-width="1.0" stroke-linejoin="round" stroke-linecap="round" />
<path d="M201.0,97.6 l-0.6,5.4 M203.6,98.8 l2.2,2 l-2.6,1 l3,2.6" fill="none" stroke="#7f7f7f" stroke-width="1.0" stroke-linejoin="round" stroke-linecap="round" />
<circle cx="166" cy="77.4" r="0.9" fill="#7f7f7f"/><circle cx="178" cy="83.2" r="0.9" fill="#7f7f7f"/><circle cx="190" cy="88.8" r="0.9" fill="#7f7f7f"/></g>
<path d="M88.3,140.8 L82,147.6 L76,152.3 L56.2,162.9 L117.3,195.3 L152,177.4 L152.4,171.6 Z" fill="#fff" stroke="#7f7f7f" stroke-width="1.1" stroke-linejoin="round" stroke-linecap="round" />
<path d="M56.2,162.9 L56.8,164.8 L117.5,197.1 L152.2,179.2" fill="none" stroke="#7f7f7f" stroke-width="1.0" stroke-linejoin="round" stroke-linecap="round" />
<path d="M90,141.8 L152.4,171.8" fill="none" stroke="#7f7f7f" stroke-width="1.5" stroke-linejoin="round" stroke-linecap="round" />
<path d="M90.2,148.9 L79.4,154" fill="none" stroke="#7f7f7f" stroke-width="1.0" stroke-linejoin="round" stroke-linecap="round" />
<path d="M102.2,147.8 L86.8,156.9" fill="none" stroke="#7f7f7f" stroke-width="1.0" stroke-linejoin="round" stroke-linecap="round" />
<path d="M106.8,149.5 L89.1,158.6" fill="none" stroke="#7f7f7f" stroke-width="1.0" stroke-linejoin="round" stroke-linecap="round" />
<path d="M115.3,154 L98.8,163.2" fill="none" stroke="#7f7f7f" stroke-width="1.0" stroke-linejoin="round" stroke-linecap="round" />
<path d="M121.8,157.5 L105.3,166.6" fill="none" stroke="#7f7f7f" stroke-width="1.0" stroke-linejoin="round" stroke-linecap="round" />
<path d="M130.4,162.1 L113.8,171.2" fill="none" stroke="#7f7f7f" stroke-width="1.0" stroke-linejoin="round" stroke-linecap="round" />
<path d="M138.4,166.6 L123,175.7" fill="none" stroke="#7f7f7f" stroke-width="1.0" stroke-linejoin="round" stroke-linecap="round" />
<path d="M142.4,168.3 L125.8,178" fill="none" stroke="#7f7f7f" stroke-width="1.0" stroke-linejoin="round" stroke-linecap="round" />
<path d="M140.6,175.7 L131.5,180.9" fill="none" stroke="#7f7f7f" stroke-width="1.0" stroke-linejoin="round" stroke-linecap="round" />
<path d="M76,152.3 Q81,147 85.1,142.1 Q88,139.6 90.8,139.8 L94.8,140.3 L95.4,143.4 M88.5,141.5 L88.5,146.8 M91.4,140.3 L91.4,146 M76,152.3 L88.5,146.8" fill="#fff" stroke="#7f7f7f" stroke-width="1.0" stroke-linejoin="round" stroke-linecap="round" />
<path d="M137,184.4 L150.9,172 M137,184.4 L151.8,177.2 M143.5,178.4 l2.4,-3.6 M146.8,176.6 l2,-3.2" fill="none" stroke="#7f7f7f" stroke-width="1.0" stroke-linejoin="round" stroke-linecap="round" />
<path d="M119,151.5 L127,155.4 L127.2,158.3 L131.3,160.3 L137.5,156.8 M122,150 L130,153.8" fill="none" stroke="#7f7f7f" stroke-width="0.9" stroke-linejoin="round" stroke-linecap="round" />
<path d="M105.4,96.6 L109.8,93.5 L119.9,91.4 L128.7,92.9 L179.0,119.3 L178.3,124.3 L173.9,128.1 L153.0,128.8 L123.5,111.8 L106.0,104.8 Z" fill="url(#cartg)" stroke="#151a1e" stroke-width="1.1" stroke-linejoin="round" stroke-linecap="round" />
<path d="M128.7,92.9 L179.0,119.3" fill="none" stroke="#151a1e" stroke-width="1.9" stroke-linejoin="round" stroke-linecap="round" />
<path d="M111.1,97.9 L155.1,119.3 L173.9,128.1 M109.8,93.5 L111.1,97.9 L111.5,106.6 M119.9,91.4 L121.0,94.8 L111.1,97.9 M107.8,95.8 L108.1,104.4" fill="none" stroke="#151a1e" stroke-width="1.0" stroke-linejoin="round" stroke-linecap="round" />
<path d="M146.3,109.0 L150.9,106.7 L156.3,109.4 L151.7,111.7 Z" fill="none" stroke="#151a1e" stroke-width="0.9" stroke-linejoin="round" stroke-linecap="round" />
<circle cx="130.9" cy="103.5" r="1" fill="#151a1e"/><circle cx="160.4" cy="119.3" r="1" fill="#151a1e"/>
<path d="M90.5,108.4 L115.5,111.0 Q123.5,105.8 132.5,106.6 Q138.0,106.6 142.5,111.0 L150.0,116.4 Q152.1,118.8 149.3,119.8 L144.5,118.4 L151.0,123.1 Q152.1,126.2 148.1,125.8 L142.9,123.8 Q135.5,128.4 126.5,127.8 L114.8,127.2 L91.5,126.1 Z" fill="#fff" stroke="none"/>
<path d="M90.5,108.4 L115.5,111.0 Q123.5,105.8 132.5,106.6 Q138.0,106.6 142.5,111.0 L150.0,116.4 Q152.1,118.8 149.3,119.8 L144.5,118.4 L151.0,123.1 Q152.1,126.2 148.1,125.8 L142.9,123.8 Q135.5,128.4 126.5,127.8 L114.8,127.2 L91.5,126.1" fill="none" stroke="#151a1e" stroke-width="1.1" stroke-linejoin="round" stroke-linecap="round" />
<path d="M115.5,111.0 Q119.5,118.8 114.8,127.2 M120.5,110.2 Q125.0,118.8 120.3,127.5 M141.0,115.3 L144.5,118.4 M139.5,120.6 L142.9,123.8" fill="none" stroke="#151a1e" stroke-width="0.9" stroke-linejoin="round" stroke-linecap="round" /><path d="M135.7,137.4 L140.6,130.4 L143.2,132.5 Q156,127 167.5,128.1 L173.2,131.4 Q164,135.2 154.6,136.1 L156.6,139.2 Z" fill="#111" stroke="#fff" stroke-width="0.8"/>
</g>
<g transform="translate(207.7,207.1)">
<path d="M81.5,140.5 L81.5,100.5 Q81.5,97 84,95.2 L125,69.3 L138,64.9 L212.5,104 L212.5,115.5 L215.5,116.2 L217.7,118.6 L217.7,154.5 Q217.7,158 214.5,159.5 L167,181.3 Q163.5,182.8 160,181.3 L152,177.6 L151.8,172 L88.5,141 Z" fill="#fff" stroke="#7f7f7f" stroke-width="1.65" stroke-linejoin="round" stroke-linecap="round" />
<path d="M83.6,100.8 Q83.6,98 85.8,96.6 L116.8,75.2 L128.2,70 L137,67" fill="none" stroke="#7f7f7f" stroke-width="1.18" stroke-linejoin="round" stroke-linecap="round" />
<path d="M81.8,100.4 L153,137.8 Q158.5,140.6 164.5,139.4 L195,125.2 L212.3,111.2" fill="none" stroke="#7f7f7f" stroke-width="1.53" stroke-linejoin="round" stroke-linecap="round" />
<path d="M82.5,103.2 L153,140 Q158.5,142.4 164,141.6" fill="none" stroke="#7f7f7f" stroke-width="1.06" stroke-linejoin="round" stroke-linecap="round" />
<path d="M163.7,142 L163.7,181.2" fill="none" stroke="#7f7f7f" stroke-width="1.18" stroke-linejoin="round" stroke-linecap="round" />
<path d="M187.8,130.2 L202.4,122.8" fill="none" stroke="#7f7f7f" stroke-width="0.94" stroke-linejoin="round" stroke-linecap="round" />
<path d="M187.8,131.6 L202.4,124.2" fill="none" stroke="#7f7f7f" stroke-width="0.94" stroke-linejoin="round" stroke-linecap="round" />
<path d="M187.8,133.1 L202.4,125.7" fill="none" stroke="#7f7f7f" stroke-width="0.94" stroke-linejoin="round" stroke-linecap="round" />
<path d="M187.8,134.5 L202.4,127.1" fill="none" stroke="#7f7f7f" stroke-width="0.94" stroke-linejoin="round" stroke-linecap="round" />
<path d="M187.8,136.0 L202.4,128.6" fill="none" stroke="#7f7f7f" stroke-width="0.94" stroke-linejoin="round" stroke-linecap="round" />
<path d="M187.8,137.4 L202.4,130.0" fill="none" stroke="#7f7f7f" stroke-width="0.94" stroke-linejoin="round" stroke-linecap="round" />
<path d="M187.8,138.9 L202.4,131.5" fill="none" stroke="#7f7f7f" stroke-width="0.94" stroke-linejoin="round" stroke-linecap="round" />
<path d="M187.8,140.3 L202.4,132.9" fill="none" stroke="#7f7f7f" stroke-width="0.94" stroke-linejoin="round" stroke-linecap="round" />
<path d="M187.8,152.6 L202.4,145.2" fill="none" stroke="#7f7f7f" stroke-width="0.94" stroke-linejoin="round" stroke-linecap="round" />
<path d="M187.8,154.0 L202.4,146.6" fill="none" stroke="#7f7f7f" stroke-width="0.94" stroke-linejoin="round" stroke-linecap="round" />
<path d="M187.8,155.5 L202.4,148.1" fill="none" stroke="#7f7f7f" stroke-width="0.94" stroke-linejoin="round" stroke-linecap="round" />
<path d="M187.8,156.9 L202.4,149.5" fill="none" stroke="#7f7f7f" stroke-width="0.94" stroke-linejoin="round" stroke-linecap="round" />
<path d="M187.8,158.4 L202.4,151.0" fill="none" stroke="#7f7f7f" stroke-width="0.94" stroke-linejoin="round" stroke-linecap="round" />
<path d="M187.8,159.8 L202.4,152.4" fill="none" stroke="#7f7f7f" stroke-width="0.94" stroke-linejoin="round" stroke-linecap="round" />
<path d="M187.8,161.3 L202.4,153.9" fill="none" stroke="#7f7f7f" stroke-width="0.94" stroke-linejoin="round" stroke-linecap="round" />
<path d="M187.8,162.8 L202.4,155.3" fill="none" stroke="#7f7f7f" stroke-width="0.94" stroke-linejoin="round" stroke-linecap="round" />
<path d="M90.3,139.8 L90.3,105.2 M151.5,135.5 L151.5,171.5" fill="none" stroke="#7f7f7f" stroke-width="1.3" stroke-linejoin="round" stroke-linecap="round" />
<path d="M90,106.8 L152,135.6" fill="none" stroke="#7f7f7f" stroke-width="2.24" stroke-linejoin="round" stroke-linecap="round" />
<path d="M89.4,103.6 L150,132.4" fill="none" stroke="#7f7f7f" stroke-width="1.06" stroke-linejoin="round" stroke-linecap="round" />
<path d="M112.8,117.6 L114.2,122.2 Q114.6,123.6 116.4,124.4 L127,129.3 Q129,130.1 129.6,128.6 L130.6,125.7" fill="none" stroke="#7f7f7f" stroke-width="1.3" stroke-linejoin="round" stroke-linecap="round" />
<path d="M95.6,134.1 L151.4,161.2 M95.6,136.4 L151.4,163.8 M92,138.4 L151.4,167.6" fill="none" stroke="#7f7f7f" stroke-width="1.06" stroke-linejoin="round" stroke-linecap="round" />
<path d="M92.6,133.6 L92.6,139.2 M95.6,134.1 L95.6,139.6 M92.6,133.6 L95.6,134.1" fill="none" stroke="#7f7f7f" stroke-width="1.06" stroke-linejoin="round" stroke-linecap="round" />
<path d="M89.2,100.6 L108.8,83.4 L112,81.8 M89.2,100.6 L152.5,131.4 L159.5,133 L207.5,109" fill="none" stroke="#7f7f7f" stroke-width="1.3" stroke-linejoin="round" stroke-linecap="round" />
<path d="M92.8,99.6 L104,91 M95,101.8 L150,128.6 L158,130.2 L167,126" fill="none" stroke="#7f7f7f" stroke-width="1.06" stroke-linejoin="round" stroke-linecap="round" />
<path d="M110.5,83.1 L110.5,87 M112.2,82.2 L112.2,86.6 M117.4,80.6 L117.9,88.8 M120.8,79.5 L121.3,88.2 M114,77 L120,73.5 L126,76.5" fill="none" stroke="#7f7f7f" stroke-width="1.18" stroke-linejoin="round" stroke-linecap="round" />
<path d="M105.4,101 L105.4,95.6 Q105.6,93.4 107.6,93 L109.6,94.6 L109.4,102.2 M107,102.6 L107,96.5" fill="none" stroke="#7f7f7f" stroke-width="1.3" stroke-linejoin="round" stroke-linecap="round" />
<path d="M95.1,96.2 L105.4,89.4" fill="none" stroke="#7f7f7f" stroke-width="1.06" stroke-linejoin="round" stroke-linecap="round" />
<path d="M132.5,72.4 L138,69.8 L141.5,72 L141.8,77 L136,77.8 Z" fill="#b9b9b9" stroke="#7f7f7f" stroke-width="1.06" stroke-linejoin="round" stroke-linecap="round" />
<path d="M110.8,81.4 L122.3,74.6 L131,71 M123.5,77 L123.5,84 M126.5,75.6 L126.5,83 M129,78 L134,80.6 M112,88 L118,91 M98,94 L103.5,90 M100,97.5 L100,93" fill="none" stroke="#7f7f7f" stroke-width="1.18" stroke-linejoin="round" stroke-linecap="round" />
<path d="M129.0,90.6 l0,-4.4 q1,-1.2 2,0.2 l0,4.6" fill="none" stroke="#7f7f7f" stroke-width="1.18" stroke-linejoin="round" stroke-linecap="round" />
<path d="M131.9,92.1 l0,-4.4 q1,-1.2 2,0.2 l0,4.6" fill="none" stroke="#7f7f7f" stroke-width="1.18" stroke-linejoin="round" stroke-linecap="round" />
<path d="M134.8,93.7 l0,-4.4 q1,-1.2 2,0.2 l0,4.6" fill="none" stroke="#7f7f7f" stroke-width="1.18" stroke-linejoin="round" stroke-linecap="round" />
<path d="M137.7,95.2 l0,-4.4 q1,-1.2 2,0.2 l0,4.6" fill="none" stroke="#7f7f7f" stroke-width="1.18" stroke-linejoin="round" stroke-linecap="round" />
<path d="M140.6,96.7 l0,-4.4 q1,-1.2 2,0.2 l0,4.6" fill="none" stroke="#7f7f7f" stroke-width="1.18" stroke-linejoin="round" stroke-linecap="round" />
<path d="M143.5,98.3 l0,-4.4 q1,-1.2 2,0.2 l0,4.6" fill="none" stroke="#7f7f7f" stroke-width="1.18" stroke-linejoin="round" stroke-linecap="round" />
<path d="M146.4,99.8 l0,-4.4 q1,-1.2 2,0.2 l0,4.6" fill="none" stroke="#7f7f7f" stroke-width="1.18" stroke-linejoin="round" stroke-linecap="round" />
<path d="M149.3,101.4 l0,-4.4 q1,-1.2 2,0.2 l0,4.6" fill="none" stroke="#7f7f7f" stroke-width="1.18" stroke-linejoin="round" stroke-linecap="round" />
<path d="M152.2,102.9 l0,-4.4 q1,-1.2 2,0.2 l0,4.6" fill="none" stroke="#7f7f7f" stroke-width="1.18" stroke-linejoin="round" stroke-linecap="round" />
<path d="M155.1,104.4 l0,-4.4 q1,-1.2 2,0.2 l0,4.6" fill="none" stroke="#7f7f7f" stroke-width="1.18" stroke-linejoin="round" stroke-linecap="round" />
<path d="M158.0,106.0 l0,-4.4 q1,-1.2 2,0.2 l0,4.6" fill="none" stroke="#7f7f7f" stroke-width="1.18" stroke-linejoin="round" stroke-linecap="round" />
<path d="M160.9,107.5 l0,-4.4 q1,-1.2 2,0.2 l0,4.6" fill="none" stroke="#7f7f7f" stroke-width="1.18" stroke-linejoin="round" stroke-linecap="round" />
<path d="M163.8,109.0 l0,-4.4 q1,-1.2 2,0.2 l0,4.6" fill="none" stroke="#7f7f7f" stroke-width="1.18" stroke-linejoin="round" stroke-linecap="round" />
<path d="M166.7,110.6 l0,-4.4 q1,-1.2 2,0.2 l0,4.6" fill="none" stroke="#7f7f7f" stroke-width="1.18" stroke-linejoin="round" stroke-linecap="round" />
<path d="M169.6,112.1 l0,-4.4 q1,-1.2 2,0.2 l0,4.6" fill="none" stroke="#7f7f7f" stroke-width="1.18" stroke-linejoin="round" stroke-linecap="round" />
<path d="M172.5,113.7 l0,-4.4 q1,-1.2 2,0.2 l0,4.6" fill="none" stroke="#7f7f7f" stroke-width="1.18" stroke-linejoin="round" stroke-linecap="round" />
<path d="M175.4,115.2 l0,-4.4 q1,-1.2 2,0.2 l0,4.6" fill="none" stroke="#7f7f7f" stroke-width="1.18" stroke-linejoin="round" stroke-linecap="round" />
<path d="M178.3,116.7 l0,-4.4 q1,-1.2 2,0.2 l0,4.6" fill="none" stroke="#7f7f7f" stroke-width="1.18" stroke-linejoin="round" stroke-linecap="round" />
<path d="M181.2,118.3 l0,-4.4 q1,-1.2 2,0.2 l0,4.6" fill="none" stroke="#7f7f7f" stroke-width="1.18" stroke-linejoin="round" stroke-linecap="round" />
<path d="M184.1,119.8 l0,-4.4 q1,-1.2 2,0.2 l0,4.6" fill="none" stroke="#7f7f7f" stroke-width="1.18" stroke-linejoin="round" stroke-linecap="round" />
<path d="M133.0,77.4 l0,3.2 l2.8,1.3 l0,-3.2 Z" fill="none" stroke="#7f7f7f" stroke-width="1.06" stroke-linejoin="round" stroke-linecap="round" />
<path d="M137.0,79.4 l0,3.2 l2.8,1.3 l0,-3.2 Z" fill="none" stroke="#7f7f7f" stroke-width="1.06" stroke-linejoin="round" stroke-linecap="round" />
<path d="M141.0,81.3 l0,3.2 l2.8,1.3 l0,-3.2 Z" fill="none" stroke="#7f7f7f" stroke-width="1.06" stroke-linejoin="round" stroke-linecap="round" />
<path d="M145.0,83.3 l0,3.2 l2.8,1.3 l0,-3.2 Z" fill="none" stroke="#7f7f7f" stroke-width="1.06" stroke-linejoin="round" stroke-linecap="round" />
<path d="M149.0,85.2 l0,3.2 l2.8,1.3 l0,-3.2 Z" fill="none" stroke="#7f7f7f" stroke-width="1.06" stroke-linejoin="round" stroke-linecap="round" />
<path d="M153.0,87.2 l0,3.2 l2.8,1.3 l0,-3.2 Z" fill="none" stroke="#7f7f7f" stroke-width="1.06" stroke-linejoin="round" stroke-linecap="round" />
<path d="M157.0,89.2 l0,3.2 l2.8,1.3 l0,-3.2 Z" fill="none" stroke="#7f7f7f" stroke-width="1.06" stroke-linejoin="round" stroke-linecap="round" />
<path d="M161.0,91.1 l0,3.2 l2.8,1.3 l0,-3.2 Z" fill="none" stroke="#7f7f7f" stroke-width="1.06" stroke-linejoin="round" stroke-linecap="round" />
<path d="M165.0,93.1 l0,3.2 l2.8,1.3 l0,-3.2 Z" fill="none" stroke="#7f7f7f" stroke-width="1.06" stroke-linejoin="round" stroke-linecap="round" />
<path d="M169.0,95.0 l0,3.2 l2.8,1.3 l0,-3.2 Z" fill="none" stroke="#7f7f7f" stroke-width="1.06" stroke-linejoin="round" stroke-linecap="round" />
<path d="M173.0,97.0 l0,3.2 l2.8,1.3 l0,-3.2 Z" fill="none" stroke="#7f7f7f" stroke-width="1.06" stroke-linejoin="round" stroke-linecap="round" />
<path d="M177.0,99.0 l0,3.2 l2.8,1.3 l0,-3.2 Z" fill="none" stroke="#7f7f7f" stroke-width="1.06" stroke-linejoin="round" stroke-linecap="round" />
<path d="M181.0,100.9 l0,3.2 l2.8,1.3 l0,-3.2 Z" fill="none" stroke="#7f7f7f" stroke-width="1.06" stroke-linejoin="round" stroke-linecap="round" />
<path d="M185.0,102.9 l0,3.2 l2.8,1.3 l0,-3.2 Z" fill="none" stroke="#7f7f7f" stroke-width="1.06" stroke-linejoin="round" stroke-linecap="round" />
<path d="M189.0,104.8 l0,3.2 l2.8,1.3 l0,-3.2 Z" fill="none" stroke="#7f7f7f" stroke-width="1.06" stroke-linejoin="round" stroke-linecap="round" />
<path d="M193.0,106.8 l0,3.2 l2.8,1.3 l0,-3.2 Z" fill="none" stroke="#7f7f7f" stroke-width="1.06" stroke-linejoin="round" stroke-linecap="round" />
<path d="M197.0,108.8 l0,3.2 l2.8,1.3 l0,-3.2 Z" fill="none" stroke="#7f7f7f" stroke-width="1.06" stroke-linejoin="round" stroke-linecap="round" />
<path d="M126,82.5 L193,115.5 M128,90.8 L186,121.6 M140,86.5 L196,113.5" fill="none" stroke="#7f7f7f" stroke-width="1.18" stroke-linejoin="round" stroke-linecap="round" />
<path d="M133,84 l3,1.4 M142,88.3 l3,1.4 M151,92.6 l3,1.4 M160,96.9 l3,1.4 M169,101.2 l3,1.4 M178,105.5 l3,1.4 M187,109.8 l3,1.4" fill="none" stroke="#7f7f7f" stroke-width="2.01" stroke-linejoin="round" stroke-linecap="round" />
<path d="M194.5,112.6 L210.3,106.8" fill="none" stroke="#7f7f7f" stroke-width="1.18" stroke-linejoin="round" stroke-linecap="round" />
<path d="M167.9,129.4 L185,119.8 L187,121.8 L170,132.1 Z" fill="none" stroke="#7f7f7f" stroke-width="1.18" stroke-linejoin="round" stroke-linecap="round" />
<path d="M165.5,132.5 a1.6,1.2 -25 1,0 0.1,0 M189,115.8 L208.3,108.1" fill="none" stroke="#7f7f7f" stroke-width="1.06" stroke-linejoin="round" stroke-linecap="round" />
<g transform="translate(0.5,1.1)"><path d="M131.8,19.4 L211.3,57.2 Q216.4,59.8 217.5,65.8 L222.9,104.5 Q223.4,110.3 219.6,112.6 L216,113.8 L212.6,108.6 L208.7,104 L200,107.6 L158,86.6 L147,72.5 L139.4,66 Z" fill="#fff" stroke="none"/>
<path d="M139.4,66 L131.8,19.4 L211.3,57.2 Q216.4,59.8 217.5,65.8 L222.9,104.5 Q223.4,110.3 219.6,112.6 L216,113.8 L212.6,108.6 L208.7,104" fill="none" stroke="#7f7f7f" stroke-width="1.2" stroke-linejoin="round" stroke-linecap="round" />
<path d="M141,73 L205.2,101.2 M160,87.6 L200,106.5" fill="none" stroke="#7f7f7f" stroke-width="1.0" stroke-linejoin="round" stroke-linecap="round" />
<path d="M203.2,59.4 L211,57.6 M133.4,21.8 L210,58.6 Q214.4,60.4 215,65 L220.2,104" fill="none" stroke="#7f7f7f" stroke-width="1.0" stroke-linejoin="round" stroke-linecap="round" />
<path d="M134.2,22.2 L203.2,59.4 M134.2,22.2 L141.6,64" fill="none" stroke="#7f7f7f" stroke-width="0.9" stroke-linejoin="round" stroke-linecap="round" />
<path d="M141.7,60.2 L143.1,29.6 Q143.4,28.4 144.6,28.9 L202.9,59.2 L199.5,89.3" fill="none" stroke="#7f7f7f" stroke-width="1.0" stroke-linejoin="round" stroke-linecap="round" />
<path d="M145.1,38.3 L156.1,42.4 M145.1,38.3 L142.6,61.6 M157.5,36.2 L153.3,64.3 M145.8,45.8 L155.4,49.9 M143.8,58.8 L154,64.3 M147,39.3 L144.6,60" fill="none" stroke="#7f7f7f" stroke-width="1.0" stroke-linejoin="round" stroke-linecap="round" />
<path d="M136.9,35.5 L143.8,37.6 L143.8,39.6 L137.3,37.7" fill="none" stroke="#7f7f7f" stroke-width="1.0" stroke-linejoin="round" stroke-linecap="round" />
<path d="M148.5,58.5 L150.5,60 L150.2,62.8 M142.4,61.6 L140.2,66.5 M146,64 L144.5,70 M150.5,65.5 L149.5,71.5 M153.3,64.3 L156.5,70.5" fill="none" stroke="#7f7f7f" stroke-width="1.0" stroke-linejoin="round" stroke-linecap="round" />
<path d="M139,64.4 L148.2,60.2 L151.4,70.4 L147,74 L141,71.4 Z" fill="#fff" stroke="#7f7f7f" stroke-width="1.1" stroke-linejoin="round" stroke-linecap="round" />
<path d="M141.2,65.4 L142.6,72 M143.8,64.2 L145.2,72.6 M146.4,63 L147.8,72" fill="none" stroke="#7f7f7f" stroke-width="1.4" stroke-linejoin="round" stroke-linecap="round" />
<path d="M158.2,38.6 L186.5,52.8" fill="none" stroke="#7f7f7f" stroke-width="0.9" stroke-linejoin="round" stroke-linecap="round" />
<circle cx="187.1" cy="55.8" r="1.2" fill="#7f7f7f"/>
<path d="M187.1,57 L185.8,72.2 M182.4,72.9 L187.4,73.4 Q188.6,73.7 188.5,75 L188.2,80 Q188,81.4 186.6,81.2 L182,80.6 Q180.8,80.3 180.9,79 L181.2,74 Q181.4,72.8 182.4,72.9 Z M184.6,81 L185,85.2 L182,87 M188.3,79.5 L192.6,83.8 L196.7,67.4" fill="none" stroke="#7f7f7f" stroke-width="1.0" stroke-linejoin="round" stroke-linecap="round" />
<path d="M192.6,65.3 Q195,62.6 199.5,63.3 Q202,63.8 201.5,65.3 Q199,68 195.3,68.1 Q192.2,67.6 192.6,65.3 Z M194.5,65.8 L199.2,64.6" fill="none" stroke="#7f7f7f" stroke-width="1.0" stroke-linejoin="round" stroke-linecap="round" />
<path d="M209,69.5 Q209.4,66.4 211.6,66.8 L214.4,68.6 Q215.8,69.6 216.1,71.4 L218.2,85.4 Q218.4,88.4 216,87.8 L213.2,86.2 M209.7,71.5 L213.6,86.4 M211.6,70.6 Q213,70.8 213.4,72.6 L215.4,84.6" fill="none" stroke="#7f7f7f" stroke-width="1.1" stroke-linejoin="round" stroke-linecap="round" />
<path d="M204.4,72.6 l2.6,0.6 M204.8,78.8 l2.6,0.6 M205.2,84.4 l2.6,0.6 M205.8,90.4 l2.6,0.6 M206.4,96 l2.6,0.6" fill="none" stroke="#7f7f7f" stroke-width="1.0" stroke-linejoin="round" stroke-linecap="round" />
<path d="M206.3,60.4 L212.6,108.6" fill="none" stroke="#7f7f7f" stroke-width="0.9" stroke-linejoin="round" stroke-linecap="round" />
<path d="M147,70.2 L203.1,95.7" fill="none" stroke="#7f7f7f" stroke-width="1.5" stroke-linejoin="round" stroke-linecap="round" />
<path d="M154,75.5 L204.7,99.7 M160.5,86 L201,105.5" fill="none" stroke="#7f7f7f" stroke-width="1.0" stroke-linejoin="round" stroke-linecap="round" />
<path d="M160.0,77.6 l-0.6,5.4 M162.6,78.8 l2.2,2 l-2.6,1 l3,2.6" fill="none" stroke="#7f7f7f" stroke-width="1.0" stroke-linejoin="round" stroke-linecap="round" />
<path d="M168.2,81.6 l-0.6,5.4 M170.8,82.8 l2.2,2 l-2.6,1 l3,2.6" fill="none" stroke="#7f7f7f" stroke-width="1.0" stroke-linejoin="round" stroke-linecap="round" />
<path d="M176.4,85.6 l-0.6,5.4 M179.0,86.8 l2.2,2 l-2.6,1 l3,2.6" fill="none" stroke="#7f7f7f" stroke-width="1.0" stroke-linejoin="round" stroke-linecap="round" />
<path d="M184.6,89.6 l-0.6,5.4 M187.2,90.8 l2.2,2 l-2.6,1 l3,2.6" fill="none" stroke="#7f7f7f" stroke-width="1.0" stroke-linejoin="round" stroke-linecap="round" />
<path d="M192.8,93.6 l-0.6,5.4 M195.4,94.8 l2.2,2 l-2.6,1 l3,2.6" fill="none" stroke="#7f7f7f" stroke-width="1.0" stroke-linejoin="round" stroke-linecap="round" />
<path d="M201.0,97.6 l-0.6,5.4 M203.6,98.8 l2.2,2 l-2.6,1 l3,2.6" fill="none" stroke="#7f7f7f" stroke-width="1.0" stroke-linejoin="round" stroke-linecap="round" />
<circle cx="166" cy="77.4" r="0.9" fill="#7f7f7f"/><circle cx="178" cy="83.2" r="0.9" fill="#7f7f7f"/><circle cx="190" cy="88.8" r="0.9" fill="#7f7f7f"/></g>
<path d="M88.3,140.8 L82,147.6 L76,152.3 L56.2,162.9 L117.3,195.3 L152,177.4 L152.4,171.6 Z" fill="#fff" stroke="#7f7f7f" stroke-width="1.1" stroke-linejoin="round" stroke-linecap="round" />
<path d="M56.2,162.9 L56.8,164.8 L117.5,197.1 L152.2,179.2" fill="none" stroke="#7f7f7f" stroke-width="1.0" stroke-linejoin="round" stroke-linecap="round" />
<path d="M90,141.8 L152.4,171.8" fill="none" stroke="#7f7f7f" stroke-width="1.5" stroke-linejoin="round" stroke-linecap="round" />
<path d="M90.2,148.9 L79.4,154" fill="none" stroke="#7f7f7f" stroke-width="1.0" stroke-linejoin="round" stroke-linecap="round" />
<path d="M102.2,147.8 L86.8,156.9" fill="none" stroke="#7f7f7f" stroke-width="1.0" stroke-linejoin="round" stroke-linecap="round" />
<path d="M106.8,149.5 L89.1,158.6" fill="none" stroke="#7f7f7f" stroke-width="1.0" stroke-linejoin="round" stroke-linecap="round" />
<path d="M115.3,154 L98.8,163.2" fill="none" stroke="#7f7f7f" stroke-width="1.0" stroke-linejoin="round" stroke-linecap="round" />
<path d="M121.8,157.5 L105.3,166.6" fill="none" stroke="#7f7f7f" stroke-width="1.0" stroke-linejoin="round" stroke-linecap="round" />
<path d="M130.4,162.1 L113.8,171.2" fill="none" stroke="#7f7f7f" stroke-width="1.0" stroke-linejoin="round" stroke-linecap="round" />
<path d="M138.4,166.6 L123,175.7" fill="none" stroke="#7f7f7f" stroke-width="1.0" stroke-linejoin="round" stroke-linecap="round" />
<path d="M142.4,168.3 L125.8,178" fill="none" stroke="#7f7f7f" stroke-width="1.0" stroke-linejoin="round" stroke-linecap="round" />
<path d="M140.6,175.7 L131.5,180.9" fill="none" stroke="#7f7f7f" stroke-width="1.0" stroke-linejoin="round" stroke-linecap="round" />
<path d="M76,152.3 Q81,147 85.1,142.1 Q88,139.6 90.8,139.8 L94.8,140.3 L95.4,143.4 M88.5,141.5 L88.5,146.8 M91.4,140.3 L91.4,146 M76,152.3 L88.5,146.8" fill="#fff" stroke="#7f7f7f" stroke-width="1.0" stroke-linejoin="round" stroke-linecap="round" />
<path d="M137,184.4 L150.9,172 M137,184.4 L151.8,177.2 M143.5,178.4 l2.4,-3.6 M146.8,176.6 l2,-3.2" fill="none" stroke="#7f7f7f" stroke-width="1.0" stroke-linejoin="round" stroke-linecap="round" />
<path d="M119,151.5 L127,155.4 L127.2,158.3 L131.3,160.3 L137.5,156.8 M122,150 L130,153.8" fill="none" stroke="#7f7f7f" stroke-width="0.9" stroke-linejoin="round" stroke-linecap="round" />
<g transform="translate(0,-1.5)"><path d="M105.4,96.6 L109.8,93.5 L119.9,91.4 L128.7,92.9 L179.0,119.3 L178.3,124.3 L173.9,128.1 L153.0,128.8 L123.5,111.8 L106.0,104.8 Z" fill="url(#cartg)" stroke="#151a1e" stroke-width="1.1" stroke-linejoin="round" stroke-linecap="round" />
<path d="M128.7,92.9 L179.0,119.3" fill="none" stroke="#151a1e" stroke-width="1.9" stroke-linejoin="round" stroke-linecap="round" />
<path d="M111.1,97.9 L155.1,119.3 L173.9,128.1 M109.8,93.5 L111.1,97.9 L111.5,106.6 M119.9,91.4 L121.0,94.8 L111.1,97.9 M107.8,95.8 L108.1,104.4" fill="none" stroke="#151a1e" stroke-width="1.0" stroke-linejoin="round" stroke-linecap="round" />
<path d="M146.3,109.0 L150.9,106.7 L156.3,109.4 L151.7,111.7 Z" fill="none" stroke="#151a1e" stroke-width="0.9" stroke-linejoin="round" stroke-linecap="round" />
<circle cx="130.9" cy="103.5" r="1" fill="#151a1e"/><circle cx="160.4" cy="119.3" r="1" fill="#151a1e"/>
<path d="M90.5,108.4 L115.5,111.0 Q123.5,105.8 132.5,106.6 Q138.0,106.6 142.5,111.0 L150.0,116.4 Q152.1,118.8 149.3,119.8 L144.5,118.4 L151.0,123.1 Q152.1,126.2 148.1,125.8 L142.9,123.8 Q135.5,128.4 126.5,127.8 L114.8,127.2 L91.5,126.1 Z" fill="#fff" stroke="none"/>
<path d="M90.5,108.4 L115.5,111.0 Q123.5,105.8 132.5,106.6 Q138.0,106.6 142.5,111.0 L150.0,116.4 Q152.1,118.8 149.3,119.8 L144.5,118.4 L151.0,123.1 Q152.1,126.2 148.1,125.8 L142.9,123.8 Q135.5,128.4 126.5,127.8 L114.8,127.2 L91.5,126.1" fill="none" stroke="#151a1e" stroke-width="1.1" stroke-linejoin="round" stroke-linecap="round" />
<path d="M115.5,111.0 Q119.5,118.8 114.8,127.2 M120.5,110.2 Q125.0,118.8 120.3,127.5 M141.0,115.3 L144.5,118.4 M139.5,120.6 L142.9,123.8" fill="none" stroke="#151a1e" stroke-width="0.9" stroke-linejoin="round" stroke-linecap="round" /></g><path d="M140.9,135.6 L158.3,128.9 L153.7,126.5 L170.1,126.5 L170.1,134.7 L164.7,132 L148.2,138.4 Z" fill="#111" stroke="#fff" stroke-width="0.8"/>
</g>
<g transform="translate(412,207.2)">
<path d="M81.5,140.5 L81.5,100.5 Q81.5,97 84,95.2 L125,69.3 L138,64.9 L212.5,104 L212.5,115.5 L215.5,116.2 L217.7,118.6 L217.7,154.5 Q217.7,158 214.5,159.5 L167,181.3 Q163.5,182.8 160,181.3 L152,177.6 L151.8,172 L88.5,141 Z" fill="#fff" stroke="#7f7f7f" stroke-width="1.65" stroke-linejoin="round" stroke-linecap="round" />
<path d="M83.6,100.8 Q83.6,98 85.8,96.6 L116.8,75.2 L128.2,70 L137,67" fill="none" stroke="#7f7f7f" stroke-width="1.18" stroke-linejoin="round" stroke-linecap="round" />
<path d="M81.8,100.4 L153,137.8 Q158.5,140.6 164.5,139.4 L195,125.2 L212.3,111.2" fill="none" stroke="#7f7f7f" stroke-width="1.53" stroke-linejoin="round" stroke-linecap="round" />
<path d="M82.5,103.2 L153,140 Q158.5,142.4 164,141.6" fill="none" stroke="#7f7f7f" stroke-width="1.06" stroke-linejoin="round" stroke-linecap="round" />
<path d="M163.7,142 L163.7,181.2" fill="none" stroke="#7f7f7f" stroke-width="1.18" stroke-linejoin="round" stroke-linecap="round" />
<path d="M187.8,130.2 L202.4,122.8" fill="none" stroke="#7f7f7f" stroke-width="0.94" stroke-linejoin="round" stroke-linecap="round" />
<path d="M187.8,131.6 L202.4,124.2" fill="none" stroke="#7f7f7f" stroke-width="0.94" stroke-linejoin="round" stroke-linecap="round" />
<path d="M187.8,133.1 L202.4,125.7" fill="none" stroke="#7f7f7f" stroke-width="0.94" stroke-linejoin="round" stroke-linecap="round" />
<path d="M187.8,134.5 L202.4,127.1" fill="none" stroke="#7f7f7f" stroke-width="0.94" stroke-linejoin="round" stroke-linecap="round" />
<path d="M187.8,136.0 L202.4,128.6" fill="none" stroke="#7f7f7f" stroke-width="0.94" stroke-linejoin="round" stroke-linecap="round" />
<path d="M187.8,137.4 L202.4,130.0" fill="none" stroke="#7f7f7f" stroke-width="0.94" stroke-linejoin="round" stroke-linecap="round" />
<path d="M187.8,138.9 L202.4,131.5" fill="none" stroke="#7f7f7f" stroke-width="0.94" stroke-linejoin="round" stroke-linecap="round" />
<path d="M187.8,140.3 L202.4,132.9" fill="none" stroke="#7f7f7f" stroke-width="0.94" stroke-linejoin="round" stroke-linecap="round" />
<path d="M187.8,152.6 L202.4,145.2" fill="none" stroke="#7f7f7f" stroke-width="0.94" stroke-linejoin="round" stroke-linecap="round" />
<path d="M187.8,154.0 L202.4,146.6" fill="none" stroke="#7f7f7f" stroke-width="0.94" stroke-linejoin="round" stroke-linecap="round" />
<path d="M187.8,155.5 L202.4,148.1" fill="none" stroke="#7f7f7f" stroke-width="0.94" stroke-linejoin="round" stroke-linecap="round" />
<path d="M187.8,156.9 L202.4,149.5" fill="none" stroke="#7f7f7f" stroke-width="0.94" stroke-linejoin="round" stroke-linecap="round" />
<path d="M187.8,158.4 L202.4,151.0" fill="none" stroke="#7f7f7f" stroke-width="0.94" stroke-linejoin="round" stroke-linecap="round" />
<path d="M187.8,159.8 L202.4,152.4" fill="none" stroke="#7f7f7f" stroke-width="0.94" stroke-linejoin="round" stroke-linecap="round" />
<path d="M187.8,161.3 L202.4,153.9" fill="none" stroke="#7f7f7f" stroke-width="0.94" stroke-linejoin="round" stroke-linecap="round" />
<path d="M187.8,162.8 L202.4,155.3" fill="none" stroke="#7f7f7f" stroke-width="0.94" stroke-linejoin="round" stroke-linecap="round" />
<path d="M90.3,139.8 L90.3,105.2 M151.5,135.5 L151.5,171.5" fill="none" stroke="#7f7f7f" stroke-width="1.3" stroke-linejoin="round" stroke-linecap="round" />
<path d="M90,106.8 L152,135.6" fill="none" stroke="#7f7f7f" stroke-width="2.24" stroke-linejoin="round" stroke-linecap="round" />
<path d="M89.4,103.6 L150,132.4" fill="none" stroke="#7f7f7f" stroke-width="1.06" stroke-linejoin="round" stroke-linecap="round" />
<path d="M112.8,117.6 L114.2,122.2 Q114.6,123.6 116.4,124.4 L127,129.3 Q129,130.1 129.6,128.6 L130.6,125.7" fill="none" stroke="#7f7f7f" stroke-width="1.3" stroke-linejoin="round" stroke-linecap="round" />
<path d="M95.6,134.1 L151.4,161.2 M95.6,136.4 L151.4,163.8 M92,138.4 L151.4,167.6" fill="none" stroke="#7f7f7f" stroke-width="1.06" stroke-linejoin="round" stroke-linecap="round" />
<path d="M92.6,133.6 L92.6,139.2 M95.6,134.1 L95.6,139.6 M92.6,133.6 L95.6,134.1" fill="none" stroke="#7f7f7f" stroke-width="1.06" stroke-linejoin="round" stroke-linecap="round" />
<path d="M89.2,100.6 L108.8,83.4 L112,81.8 M89.2,100.6 L152.5,131.4 L159.5,133 L207.5,109" fill="none" stroke="#7f7f7f" stroke-width="1.3" stroke-linejoin="round" stroke-linecap="round" />
<path d="M92.8,99.6 L104,91 M95,101.8 L150,128.6 L158,130.2 L167,126" fill="none" stroke="#7f7f7f" stroke-width="1.06" stroke-linejoin="round" stroke-linecap="round" />
<path d="M110.5,83.1 L110.5,87 M112.2,82.2 L112.2,86.6 M117.4,80.6 L117.9,88.8 M120.8,79.5 L121.3,88.2 M114,77 L120,73.5 L126,76.5" fill="none" stroke="#7f7f7f" stroke-width="1.18" stroke-linejoin="round" stroke-linecap="round" />
<path d="M105.4,101 L105.4,95.6 Q105.6,93.4 107.6,93 L109.6,94.6 L109.4,102.2 M107,102.6 L107,96.5" fill="none" stroke="#7f7f7f" stroke-width="1.3" stroke-linejoin="round" stroke-linecap="round" />
<path d="M95.1,96.2 L105.4,89.4" fill="none" stroke="#7f7f7f" stroke-width="1.06" stroke-linejoin="round" stroke-linecap="round" />
<path d="M132.5,72.4 L138,69.8 L141.5,72 L141.8,77 L136,77.8 Z" fill="#b9b9b9" stroke="#7f7f7f" stroke-width="1.06" stroke-linejoin="round" stroke-linecap="round" />
<path d="M110.8,81.4 L122.3,74.6 L131,71 M123.5,77 L123.5,84 M126.5,75.6 L126.5,83 M129,78 L134,80.6 M112,88 L118,91 M98,94 L103.5,90 M100,97.5 L100,93" fill="none" stroke="#7f7f7f" stroke-width="1.18" stroke-linejoin="round" stroke-linecap="round" />
<path d="M111.4,97.6 L119.4,94 L128,95.8 L178,120.4 L178,124 L170.5,128 L167.4,128.6 L111.4,101.6 Z" fill="#fff" stroke="#7f7f7f" stroke-width="1.3" stroke-linejoin="round" stroke-linecap="round" />
<path d="M111.4,99.9 L125.1,108.5 L167.4,128.5 M125.1,108.5 L130.8,105.1 L156,117.6 L150.8,121.6 Z M125.1,108.5 L125.1,111 M150.8,121.6 L150.8,124.4 M150.8,124.4 L125.1,111.2" fill="none" stroke="#7f7f7f" stroke-width="1.18" stroke-linejoin="round" stroke-linecap="round" />
<path d="M145.7,108.4 L150.7,106 L156,108.6 L151,111.2 Z" fill="none" stroke="#7f7f7f" stroke-width="1.06" stroke-linejoin="round" stroke-linecap="round" />
<circle cx="130.3" cy="103.4" r="0.9" fill="#7f7f7f"/><circle cx="160" cy="118.8" r="0.9" fill="#7f7f7f"/>
<path d="M129.0,90.6 l0,-4.4 q1,-1.2 2,0.2 l0,4.6" fill="none" stroke="#7f7f7f" stroke-width="1.18" stroke-linejoin="round" stroke-linecap="round" />
<path d="M131.9,92.1 l0,-4.4 q1,-1.2 2,0.2 l0,4.6" fill="none" stroke="#7f7f7f" stroke-width="1.18" stroke-linejoin="round" stroke-linecap="round" />
<path d="M134.8,93.7 l0,-4.4 q1,-1.2 2,0.2 l0,4.6" fill="none" stroke="#7f7f7f" stroke-width="1.18" stroke-linejoin="round" stroke-linecap="round" />
<path d="M137.7,95.2 l0,-4.4 q1,-1.2 2,0.2 l0,4.6" fill="none" stroke="#7f7f7f" stroke-width="1.18" stroke-linejoin="round" stroke-linecap="round" />
<path d="M140.6,96.7 l0,-4.4 q1,-1.2 2,0.2 l0,4.6" fill="none" stroke="#7f7f7f" stroke-width="1.18" stroke-linejoin="round" stroke-linecap="round" />
<path d="M143.5,98.3 l0,-4.4 q1,-1.2 2,0.2 l0,4.6" fill="none" stroke="#7f7f7f" stroke-width="1.18" stroke-linejoin="round" stroke-linecap="round" />
<path d="M146.4,99.8 l0,-4.4 q1,-1.2 2,0.2 l0,4.6" fill="none" stroke="#7f7f7f" stroke-width="1.18" stroke-linejoin="round" stroke-linecap="round" />
<path d="M149.3,101.4 l0,-4.4 q1,-1.2 2,0.2 l0,4.6" fill="none" stroke="#7f7f7f" stroke-width="1.18" stroke-linejoin="round" stroke-linecap="round" />
<path d="M152.2,102.9 l0,-4.4 q1,-1.2 2,0.2 l0,4.6" fill="none" stroke="#7f7f7f" stroke-width="1.18" stroke-linejoin="round" stroke-linecap="round" />
<path d="M155.1,104.4 l0,-4.4 q1,-1.2 2,0.2 l0,4.6" fill="none" stroke="#7f7f7f" stroke-width="1.18" stroke-linejoin="round" stroke-linecap="round" />
<path d="M158.0,106.0 l0,-4.4 q1,-1.2 2,0.2 l0,4.6" fill="none" stroke="#7f7f7f" stroke-width="1.18" stroke-linejoin="round" stroke-linecap="round" />
<path d="M160.9,107.5 l0,-4.4 q1,-1.2 2,0.2 l0,4.6" fill="none" stroke="#7f7f7f" stroke-width="1.18" stroke-linejoin="round" stroke-linecap="round" />
<path d="M163.8,109.0 l0,-4.4 q1,-1.2 2,0.2 l0,4.6" fill="none" stroke="#7f7f7f" stroke-width="1.18" stroke-linejoin="round" stroke-linecap="round" />
<path d="M166.7,110.6 l0,-4.4 q1,-1.2 2,0.2 l0,4.6" fill="none" stroke="#7f7f7f" stroke-width="1.18" stroke-linejoin="round" stroke-linecap="round" />
<path d="M169.6,112.1 l0,-4.4 q1,-1.2 2,0.2 l0,4.6" fill="none" stroke="#7f7f7f" stroke-width="1.18" stroke-linejoin="round" stroke-linecap="round" />
<path d="M172.5,113.7 l0,-4.4 q1,-1.2 2,0.2 l0,4.6" fill="none" stroke="#7f7f7f" stroke-width="1.18" stroke-linejoin="round" stroke-linecap="round" />
<path d="M175.4,115.2 l0,-4.4 q1,-1.2 2,0.2 l0,4.6" fill="none" stroke="#7f7f7f" stroke-width="1.18" stroke-linejoin="round" stroke-linecap="round" />
<path d="M178.3,116.7 l0,-4.4 q1,-1.2 2,0.2 l0,4.6" fill="none" stroke="#7f7f7f" stroke-width="1.18" stroke-linejoin="round" stroke-linecap="round" />
<path d="M181.2,118.3 l0,-4.4 q1,-1.2 2,0.2 l0,4.6" fill="none" stroke="#7f7f7f" stroke-width="1.18" stroke-linejoin="round" stroke-linecap="round" />
<path d="M184.1,119.8 l0,-4.4 q1,-1.2 2,0.2 l0,4.6" fill="none" stroke="#7f7f7f" stroke-width="1.18" stroke-linejoin="round" stroke-linecap="round" />
<path d="M133.0,77.4 l0,3.2 l2.8,1.3 l0,-3.2 Z" fill="none" stroke="#7f7f7f" stroke-width="1.06" stroke-linejoin="round" stroke-linecap="round" />
<path d="M137.0,79.4 l0,3.2 l2.8,1.3 l0,-3.2 Z" fill="none" stroke="#7f7f7f" stroke-width="1.06" stroke-linejoin="round" stroke-linecap="round" />
<path d="M141.0,81.3 l0,3.2 l2.8,1.3 l0,-3.2 Z" fill="none" stroke="#7f7f7f" stroke-width="1.06" stroke-linejoin="round" stroke-linecap="round" />
<path d="M145.0,83.3 l0,3.2 l2.8,1.3 l0,-3.2 Z" fill="none" stroke="#7f7f7f" stroke-width="1.06" stroke-linejoin="round" stroke-linecap="round" />
<path d="M149.0,85.2 l0,3.2 l2.8,1.3 l0,-3.2 Z" fill="none" stroke="#7f7f7f" stroke-width="1.06" stroke-linejoin="round" stroke-linecap="round" />
<path d="M153.0,87.2 l0,3.2 l2.8,1.3 l0,-3.2 Z" fill="none" stroke="#7f7f7f" stroke-width="1.06" stroke-linejoin="round" stroke-linecap="round" />
<path d="M157.0,89.2 l0,3.2 l2.8,1.3 l0,-3.2 Z" fill="none" stroke="#7f7f7f" stroke-width="1.06" stroke-linejoin="round" stroke-linecap="round" />
<path d="M161.0,91.1 l0,3.2 l2.8,1.3 l0,-3.2 Z" fill="none" stroke="#7f7f7f" stroke-width="1.06" stroke-linejoin="round" stroke-linecap="round" />
<path d="M165.0,93.1 l0,3.2 l2.8,1.3 l0,-3.2 Z" fill="none" stroke="#7f7f7f" stroke-width="1.06" stroke-linejoin="round" stroke-linecap="round" />
<path d="M169.0,95.0 l0,3.2 l2.8,1.3 l0,-3.2 Z" fill="none" stroke="#7f7f7f" stroke-width="1.06" stroke-linejoin="round" stroke-linecap="round" />
<path d="M173.0,97.0 l0,3.2 l2.8,1.3 l0,-3.2 Z" fill="none" stroke="#7f7f7f" stroke-width="1.06" stroke-linejoin="round" stroke-linecap="round" />
<path d="M177.0,99.0 l0,3.2 l2.8,1.3 l0,-3.2 Z" fill="none" stroke="#7f7f7f" stroke-width="1.06" stroke-linejoin="round" stroke-linecap="round" />
<path d="M181.0,100.9 l0,3.2 l2.8,1.3 l0,-3.2 Z" fill="none" stroke="#7f7f7f" stroke-width="1.06" stroke-linejoin="round" stroke-linecap="round" />
<path d="M185.0,102.9 l0,3.2 l2.8,1.3 l0,-3.2 Z" fill="none" stroke="#7f7f7f" stroke-width="1.06" stroke-linejoin="round" stroke-linecap="round" />
<path d="M189.0,104.8 l0,3.2 l2.8,1.3 l0,-3.2 Z" fill="none" stroke="#7f7f7f" stroke-width="1.06" stroke-linejoin="round" stroke-linecap="round" />
<path d="M193.0,106.8 l0,3.2 l2.8,1.3 l0,-3.2 Z" fill="none" stroke="#7f7f7f" stroke-width="1.06" stroke-linejoin="round" stroke-linecap="round" />
<path d="M197.0,108.8 l0,3.2 l2.8,1.3 l0,-3.2 Z" fill="none" stroke="#7f7f7f" stroke-width="1.06" stroke-linejoin="round" stroke-linecap="round" />
<path d="M126,82.5 L193,115.5 M128,90.8 L186,121.6 M140,86.5 L196,113.5" fill="none" stroke="#7f7f7f" stroke-width="1.18" stroke-linejoin="round" stroke-linecap="round" />
<path d="M133,84 l3,1.4 M142,88.3 l3,1.4 M151,92.6 l3,1.4 M160,96.9 l3,1.4 M169,101.2 l3,1.4 M178,105.5 l3,1.4 M187,109.8 l3,1.4" fill="none" stroke="#7f7f7f" stroke-width="2.01" stroke-linejoin="round" stroke-linecap="round" />
<path d="M194.5,112.6 L210.3,106.8" fill="none" stroke="#7f7f7f" stroke-width="1.18" stroke-linejoin="round" stroke-linecap="round" />
<path d="M167.9,129.4 L185,119.8 L187,121.8 L170,132.1 Z" fill="none" stroke="#7f7f7f" stroke-width="1.18" stroke-linejoin="round" stroke-linecap="round" />
<path d="M165.5,132.5 a1.6,1.2 -25 1,0 0.1,0 M189,115.8 L208.3,108.1" fill="none" stroke="#7f7f7f" stroke-width="1.06" stroke-linejoin="round" stroke-linecap="round" />
<g transform="translate(0.5,1.1)"><path d="M131.8,19.4 L211.3,57.2 Q216.4,59.8 217.5,65.8 L222.9,104.5 Q223.4,110.3 219.6,112.6 L216,113.8 L212.6,108.6 L208.7,104 L200,107.6 L158,86.6 L147,72.5 L139.4,66 Z" fill="url(#lidg)" stroke="#151a1e" stroke-width="1.69" stroke-linejoin="round" stroke-linecap="round" />
<path d="M212.5,58.2 Q216.4,59.8 217.5,65.8 L222.9,104.5 Q223.4,110.3 219.6,112.6 L216,113.8 L212.6,108.6 L217,108 L220.2,104 L214.6,66 Z" fill="#2b7797" stroke="#151a1e" stroke-width="1.17" stroke-linejoin="round" stroke-linecap="round" />
<path d="M203.2,59.4 L206.3,60.4 L212.6,108.6" fill="none" stroke="#151a1e" stroke-width="1.17" stroke-linejoin="round" stroke-linecap="round" />
<path d="M131.8,19.4 L211.3,57.2 Q216.4,59.8 217.5,65.8" fill="none" stroke="#151a1e" stroke-width="2.6" stroke-linejoin="round" stroke-linecap="round" />
<path d="M133.6,21.2 L210.4,57.9 Q214.6,60 215.3,64" fill="none" stroke="#8bbbd0" stroke-width="0.78" stroke-linejoin="round" stroke-linecap="round" />
<path d="M214.6,66 L220.2,104" fill="none" stroke="#151a1e" stroke-width="1.17" stroke-linejoin="round" stroke-linecap="round" />
<path d="M134.2,22.2 L203.2,59.4 M134.2,22.2 L141.6,64" fill="none" stroke="#151a1e" stroke-width="1.17" stroke-linejoin="round" stroke-linecap="round" />
<path d="M141.7,60.2 L143.1,29.6 Q143.4,28.4 144.6,28.9 L202.9,59.2 L199.5,89.3" fill="none" stroke="#151a1e" stroke-width="1.3" stroke-linejoin="round" stroke-linecap="round" />
<path d="M145.1,38.3 L156.1,42.4 M145.1,38.3 L142.6,61.6 M157.5,36.2 L153.3,64.3 M145.8,45.8 L155.4,49.9 M143.8,58.8 L154,64.3 M147,39.3 L144.6,60" fill="none" stroke="#151a1e" stroke-width="1.3" stroke-linejoin="round" stroke-linecap="round" />
<path d="M136.9,35.5 L143.8,37.6 L143.8,39.6 L137.3,37.7" fill="none" stroke="#151a1e" stroke-width="1.3" stroke-linejoin="round" stroke-linecap="round" />
<path d="M148.5,58.5 L150.5,60 L150.2,62.8 M142.4,61.6 L140.2,66.5 M146,64 L144.5,70 M150.5,65.5 L149.5,71.5 M153.3,64.3 L156.5,70.5" fill="none" stroke="#151a1e" stroke-width="1.3" stroke-linejoin="round" stroke-linecap="round" />
<path d="M139,64.4 L148.2,60.2 L151.4,70.4 L147,74 L141,71.4 Z" fill="url(#lidg)" stroke="#151a1e" stroke-width="1.43" stroke-linejoin="round" stroke-linecap="round" />
<path d="M141.2,65.4 L142.6,72 M143.8,64.2 L145.2,72.6 M146.4,63 L147.8,72" fill="none" stroke="#151a1e" stroke-width="1.82" stroke-linejoin="round" stroke-linecap="round" />
<path d="M158.2,38.6 L186.5,52.8" fill="none" stroke="#151a1e" stroke-width="1.17" stroke-linejoin="round" stroke-linecap="round" />
<circle cx="187.1" cy="55.8" r="1.2" fill="#151a1e"/>
<path d="M187.1,57 L185.8,72.2 M182.4,72.9 L187.4,73.4 Q188.6,73.7 188.5,75 L188.2,80 Q188,81.4 186.6,81.2 L182,80.6 Q180.8,80.3 180.9,79 L181.2,74 Q181.4,72.8 182.4,72.9 Z M184.6,81 L185,85.2 L182,87 M188.3,79.5 L192.6,83.8 L196.7,67.4" fill="none" stroke="#151a1e" stroke-width="1.3" stroke-linejoin="round" stroke-linecap="round" />
<path d="M192.6,65.3 Q195,62.6 199.5,63.3 Q202,63.8 201.5,65.3 Q199,68 195.3,68.1 Q192.2,67.6 192.6,65.3 Z M194.5,65.8 L199.2,64.6" fill="none" stroke="#151a1e" stroke-width="1.3" stroke-linejoin="round" stroke-linecap="round" />
<path d="M209,69.5 Q209.4,66.4 211.6,66.8 L214.4,68.6 Q215.8,69.6 216.1,71.4 L218.2,85.4 Q218.4,88.4 216,87.8 L213.2,86.2 M209.7,71.5 L213.6,86.4 M211.6,70.6 Q213,70.8 213.4,72.6 L215.4,84.6" fill="none" stroke="#151a1e" stroke-width="1.43" stroke-linejoin="round" stroke-linecap="round" />
<path d="M204.4,72.6 l2.6,0.6 M204.8,78.8 l2.6,0.6 M205.2,84.4 l2.6,0.6 M205.8,90.4 l2.6,0.6 M206.4,96 l2.6,0.6" fill="none" stroke="#151a1e" stroke-width="1.3" stroke-linejoin="round" stroke-linecap="round" />
<path d="M206.3,60.4 L212.6,108.6" fill="none" stroke="#151a1e" stroke-width="1.17" stroke-linejoin="round" stroke-linecap="round" />
<path d="M147,70.2 L203.1,95.7" fill="none" stroke="#151a1e" stroke-width="1.95" stroke-linejoin="round" stroke-linecap="round" />
<path d="M154,75.5 L204.7,99.7 M160.5,86 L201,105.5" fill="none" stroke="#151a1e" stroke-width="1.3" stroke-linejoin="round" stroke-linecap="round" />
<path d="M160.0,77.6 l-0.6,5.4 M162.6,78.8 l2.2,2 l-2.6,1 l3,2.6" fill="none" stroke="#151a1e" stroke-width="1.3" stroke-linejoin="round" stroke-linecap="round" />
<path d="M168.2,81.6 l-0.6,5.4 M170.8,82.8 l2.2,2 l-2.6,1 l3,2.6" fill="none" stroke="#151a1e" stroke-width="1.3" stroke-linejoin="round" stroke-linecap="round" />
<path d="M176.4,85.6 l-0.6,5.4 M179.0,86.8 l2.2,2 l-2.6,1 l3,2.6" fill="none" stroke="#151a1e" stroke-width="1.3" stroke-linejoin="round" stroke-linecap="round" />
<path d="M184.6,89.6 l-0.6,5.4 M187.2,90.8 l2.2,2 l-2.6,1 l3,2.6" fill="none" stroke="#151a1e" stroke-width="1.3" stroke-linejoin="round" stroke-linecap="round" />
<path d="M192.8,93.6 l-0.6,5.4 M195.4,94.8 l2.2,2 l-2.6,1 l3,2.6" fill="none" stroke="#151a1e" stroke-width="1.3" stroke-linejoin="round" stroke-linecap="round" />
<path d="M201.0,97.6 l-0.6,5.4 M203.6,98.8 l2.2,2 l-2.6,1 l3,2.6" fill="none" stroke="#151a1e" stroke-width="1.3" stroke-linejoin="round" stroke-linecap="round" />
<circle cx="166" cy="77.4" r="0.9" fill="#151a1e"/><circle cx="178" cy="83.2" r="0.9" fill="#151a1e"/><circle cx="190" cy="88.8" r="0.9" fill="#151a1e"/></g>
<path d="M88.3,140.8 L82,147.6 L76,152.3 L56.2,162.9 L117.3,195.3 L152,177.4 L152.4,171.6 Z" fill="#fff" stroke="#2e2e2e" stroke-width="1.1" stroke-linejoin="round" stroke-linecap="round" />
<path d="M56.2,162.9 L56.8,164.8 L117.5,197.1 L152.2,179.2" fill="none" stroke="#2e2e2e" stroke-width="1.0" stroke-linejoin="round" stroke-linecap="round" />
<path d="M90,141.8 L152.4,171.8" fill="none" stroke="#2e2e2e" stroke-width="1.5" stroke-linejoin="round" stroke-linecap="round" />
<path d="M90.2,148.9 L79.4,154" fill="none" stroke="#2e2e2e" stroke-width="1.0" stroke-linejoin="round" stroke-linecap="round" />
<path d="M102.2,147.8 L86.8,156.9" fill="none" stroke="#2e2e2e" stroke-width="1.0" stroke-linejoin="round" stroke-linecap="round" />
<path d="M106.8,149.5 L89.1,158.6" fill="none" stroke="#2e2e2e" stroke-width="1.0" stroke-linejoin="round" stroke-linecap="round" />
<path d="M115.3,154 L98.8,163.2" fill="none" stroke="#2e2e2e" stroke-width="1.0" stroke-linejoin="round" stroke-linecap="round" />
<path d="M121.8,157.5 L105.3,166.6" fill="none" stroke="#2e2e2e" stroke-width="1.0" stroke-linejoin="round" stroke-linecap="round" />
<path d="M130.4,162.1 L113.8,171.2" fill="none" stroke="#2e2e2e" stroke-width="1.0" stroke-linejoin="round" stroke-linecap="round" />
<path d="M138.4,166.6 L123,175.7" fill="none" stroke="#2e2e2e" stroke-width="1.0" stroke-linejoin="round" stroke-linecap="round" />
<path d="M142.4,168.3 L125.8,178" fill="none" stroke="#2e2e2e" stroke-width="1.0" stroke-linejoin="round" stroke-linecap="round" />
<path d="M140.6,175.7 L131.5,180.9" fill="none" stroke="#2e2e2e" stroke-width="1.0" stroke-linejoin="round" stroke-linecap="round" />
<path d="M76,152.3 Q81,147 85.1,142.1 Q88,139.6 90.8,139.8 L94.8,140.3 L95.4,143.4 M88.5,141.5 L88.5,146.8 M91.4,140.3 L91.4,146 M76,152.3 L88.5,146.8" fill="#fff" stroke="#2e2e2e" stroke-width="1.0" stroke-linejoin="round" stroke-linecap="round" />
<path d="M137,184.4 L150.9,172 M137,184.4 L151.8,177.2 M143.5,178.4 l2.4,-3.6 M146.8,176.6 l2,-3.2" fill="none" stroke="#2e2e2e" stroke-width="1.0" stroke-linejoin="round" stroke-linecap="round" />
<path d="M119,151.5 L127,155.4 L127.2,158.3 L131.3,160.3 L137.5,156.8 M122,150 L130,153.8" fill="none" stroke="#7f7f7f" stroke-width="0.9" stroke-linejoin="round" stroke-linecap="round" />
<path d="M166.8,67.2 Q151,73 149,87 L142.9,87 L146.3,104.2 L159.3,95.3 L155.9,92.5 Q157.5,79 173,71.3 Z" fill="#111" stroke="#fff" stroke-width="1"/>
</g>
<ellipse cx="537" cy="32.8" rx="10.6" ry="9.9" fill="#fff" stroke="#2a2a2a" stroke-width="1.2"/>
<rect x="532" y="29" width="9.8" height="10" fill="#1d1d1d"/>
<path d="M534.6,30.6 v6.6 M536.9,30.6 v6.6 M539.2,30.6 v6.6" stroke="#fff" stroke-width="1.1"/>
<path d="M532,27.2 L541.8,27.2" stroke="#1d1d1d" stroke-width="1.2"/><path d="M534.6,26.4 Q537,24.6 539.4,26.4" stroke="#1d1d1d" stroke-width="0.9" fill="none"/>
<path d="M537,42.7 L537,70.5" stroke="#1d1d1d" stroke-width="1.2"/>
<path d="M523.2,70.8 L525.7,69.5 L535.1,69.4 L629.1,117.7 L639.5,123.3 L638.7,131.3 L633.1,139.3 L629.9,146.5 L625.1,146.5 L621.1,144.1 L609.9,138.5 L612.3,132.9 L604.3,128.9 L602.7,125.7 L597.2,124.9 L587.6,119.3 L585.2,116.2 L561.5,105.3 L559,102.1 L548.9,102.1 L545.2,102.7 L540.1,101.5 L526.3,95.2 L523.8,92.7 L523.2,82 L528.2,80.2 L528.2,77 L523.2,77.6 Z" fill="url(#covg)" stroke="#151a1e" stroke-width="1.3" stroke-linejoin="round" stroke-linecap="round" />
<path d="M523.2,70.8 L525.7,69.5 L535.1,69.4 L629.1,117.7 L639.5,123.3 L634.5,128 L627.5,124.1 L531.3,75.7 Z" fill="#fff" opacity="0.25"/>
<path d="M627.5,124.1 L634.5,128 L639.5,123.3 L638.7,131.3 L633.1,139.3 L629.9,146.5 L626.5,146.5 L625.9,131.3 Z" fill="#2b7797"/>
<path d="M531.3,75.7 L627.5,124.1 L634.5,128 L639.5,123.3 M530.1,84.5 L625.9,131.3 M627.5,124.1 L625.9,131.3 L626.5,146 M528.2,77 L531.3,75.7 L530.1,84.5 L526.3,95.2 M540.1,101.5 L542,95.2 L546.4,97.1 L545.2,102.7 M612.3,132.9 L616.5,135 L614.5,140.8 M580,98.5 L584.5,96.4 L596.5,102.4 L592,104.6 Z M590,101 l8,4" fill="none" stroke="#151a1e" stroke-width="1.1" stroke-linejoin="round" stroke-linecap="round" />
<path d="M540.3,123.1 L560.8,112.8 L555.1,109.4 L583.1,108.8 L583.1,123.7 L575.7,120.3 L554.6,130.5 Z" fill="#111" stroke="#fff" stroke-width="1"/>
<path d="M470,114.8 L476.8,110.8 L486,107.4 L498.5,107.4 L502,110.8 L580.5,151 L587.3,156.1 L590.8,159.5 L589,168.1 L580.5,178.4 L568.5,181.8 L559.9,177.5 L476.8,135.4 L468.3,131.4 L467.7,126.8 L468.3,124.6 Z" fill="#fff" stroke="#151a1e" stroke-width="1.5" stroke-linejoin="round" stroke-linecap="round" />
<path d="M470.5,117.2 L559.9,163 L587.3,156.1 M468.3,127 L472,126.1 L559.5,171.5 M559.9,163 L559.9,177.5 M476.5,112.5 L474.5,122.8 M472,126.1 L472.5,130 L477.5,132.5 M470.2,120.5 L473.5,119.2" fill="none" stroke="#151a1e" stroke-width="1.25" stroke-linejoin="round" stroke-linecap="round" />
<path d="M479.1,117.1 L497.4,109.1 L502,110.8 M479.1,117.1 L498,127 M486,107.4 L487.5,110.5 L497.4,109.1 M541.1,146.7 L566,159.4 L580.5,151 M503,114.8 L576.5,152.6 M544,150.5 L560,158.8" fill="none" stroke="#151a1e" stroke-width="1.1" stroke-linejoin="round" stroke-linecap="round" />
<path d="M498.5,131.4 L504.8,128.5 L541.1,146.7 L532.5,151.8 Z M532.5,151.8 L532.5,157 M498.5,131.4 L498.5,135.4 M500.5,134.2 L531,150.6 M498.5,135.4 L532.5,157" fill="none" stroke="#151a1e" stroke-width="1.3" stroke-linejoin="round" stroke-linecap="round" />
<path d="M528.3,131 L535,127.8 L542,131.4 L535.5,134.7 Z M534.4,131.2 a1,0.9 0 1,0 0.1,0" fill="none" stroke="#151a1e" stroke-width="1.1" stroke-linejoin="round" stroke-linecap="round" />
<circle cx="504.3" cy="123.6" r="1.1" fill="#151a1e"/><circle cx="546.2" cy="145.8" r="1.1" fill="#151a1e"/>
<path d="M563,166.5 Q572,160.5 585,159 M563.5,175.5 L566.5,168 L572.5,165 M571.5,180 L573,172.5 L580,169.5 L586.5,162.5 M575.8,172.2 a2.2,2.2 0 1,0 0.1,0 M567.8,170 a1.4,1.4 0 1,0 0.1,0 M582,164 a1.3,1.3 0 1,0 0.1,0 M577,160.5 l2,3 M570,162.5 l1.5,3 M584,168 l-3,4.5 M578,176 l-3,3" fill="none" stroke="#151a1e" stroke-width="1.15" stroke-linejoin="round" stroke-linecap="round" />
<path d="M84,321.6 L90.5,316 L100,311.5 L166,305.7 L210.3,305 L215.9,309.4 L214.8,323.8 L208,330.5 L170,341.5 L91.6,338.3 L85,331.6 Z" fill="#d9d9d9" stroke="#8a8a8a" stroke-width="1" stroke-dasharray="2.2 1.3"/>
<path d="M86,325 L100,321.5 L160,324 M92,334.5 L165,337 L206,326 M100,321.5 L101,333 M170,308.5 L212,308 M186,306 L187,314 L200,318 L213,314 M196,309.5 l4,3 l5,-2 M203,320 l5,3 M192,322 l4,3 M110,325 l0,8 M118,325.5 l0,8" fill="none" stroke="#8e8e8e" stroke-width="0.9" stroke-dasharray="2 1.3"/>
<path d="M101,286 L104,283.8 L121.8,282.5 L205.7,329.2 L213,333.8 L210.3,342.9 L205.7,350 L167.4,345.6 L102.1,311.8 L91.8,307.5 L91.8,302.4 L98,299 Z" fill="url(#c4g)" stroke="#151a1e" stroke-width="1.3" stroke-linejoin="round" stroke-linecap="round" />
<path d="M98,299 L100.4,297.3 L158.6,326.4 L167.4,337.6 L201,330.4 L213,333.8 M167.4,337.6 L167.4,345.6 M91.8,302.4 L101.5,306.6 L166.6,341 M101.5,306.6 L102.1,311.8 M104,283.8 L106.5,288.5 L121.8,282.5 M106.5,288.5 L100.4,297.3" fill="none" stroke="#151a1e" stroke-width="1.0" stroke-linejoin="round" stroke-linecap="round" />
<path d="M120.1,307.5 L129.5,303.3 L162.1,321.2 L155.2,328.1 Z M120.1,307.5 L120.1,311 M155.2,328.1 L156,332 M122,310 L154,326.8" fill="none" stroke="#151a1e" stroke-width="1.2" stroke-linejoin="round" stroke-linecap="round" />
<path d="M149.2,307.6 L155.5,304.6 L165.5,309.4 L159,312.6 Z M157.8,308 a1,0.9 0 1,0 0.1,0" fill="none" stroke="#151a1e" stroke-width="1.0" stroke-linejoin="round" stroke-linecap="round" />
<circle cx="128.3" cy="299.8" r="1" fill="#151a1e"/><circle cx="168.9" cy="321.2" r="1" fill="#151a1e"/>
<path d="M49.6,286.4 L64,286.8 L70,287.2 Q78,283.5 86.5,281.2 Q90,281 92,283 L103.5,286.5 Q106,288.5 103,289.5 L96,289 L108.5,292 Q111.5,293.8 109,295.5 L97,296.5 L84,299.5 L93,299.5 L93,302.5 Q82,305.5 72,304.5 L65.6,305.9 L52,307.2" fill="#fff" stroke="#151a1e" stroke-width="1.0" stroke-linejoin="round" stroke-linecap="round" />
<path d="M64,286.8 Q69,296 65.6,305.9 M69.8,287.1 Q75,296 71.2,305" fill="none" stroke="#151a1e" stroke-width="0.9" stroke-linejoin="round" stroke-linecap="round" />
<path d="M145.4,361.8 L161,350.5 L167,347.5 Q175,339 186,337 L199,339.5 L205.5,336 Q209,335.5 208.5,339 L205,343.5 L209,342.5 Q211,344 209,347 L203,352 Q196,358 186,357.5 L181,360 L163,374.6" fill="#fff" stroke="#151a1e" stroke-width="1.0" stroke-linejoin="round" stroke-linecap="round" />
<path d="M161,350.5 Q170,353 175.5,363.5 M167,347.5 Q176,350.5 181,360" fill="none" stroke="#151a1e" stroke-width="0.9" stroke-linejoin="round" stroke-linecap="round" />
<path d="M71.9,282.7 L70.4,273.5 L73.2,275.2 Q78,265.5 88.8,263.6 L86.3,260.8 L95.9,262.8 L93.2,269.6 L91,267 Q82,268.5 76.8,277.2 L80,280.3 Z" fill="#111"/>
<path d="M233.3,330.3 L238.4,338.5 L235.6,337.8 Q234,349.5 225.8,354.6 L227.1,355.8 L216.8,353.4 L218.4,349.8 L221.8,351.2 Q229.5,346.5 230.4,335.6 L227.1,334.4 Z" fill="#111"/>
<text class="t" x="149.4" y="270.7" font-size="14.5" letter-spacing="0.35" fill="#1a1a1a">5~6</text>
</svg>
</body></html>
